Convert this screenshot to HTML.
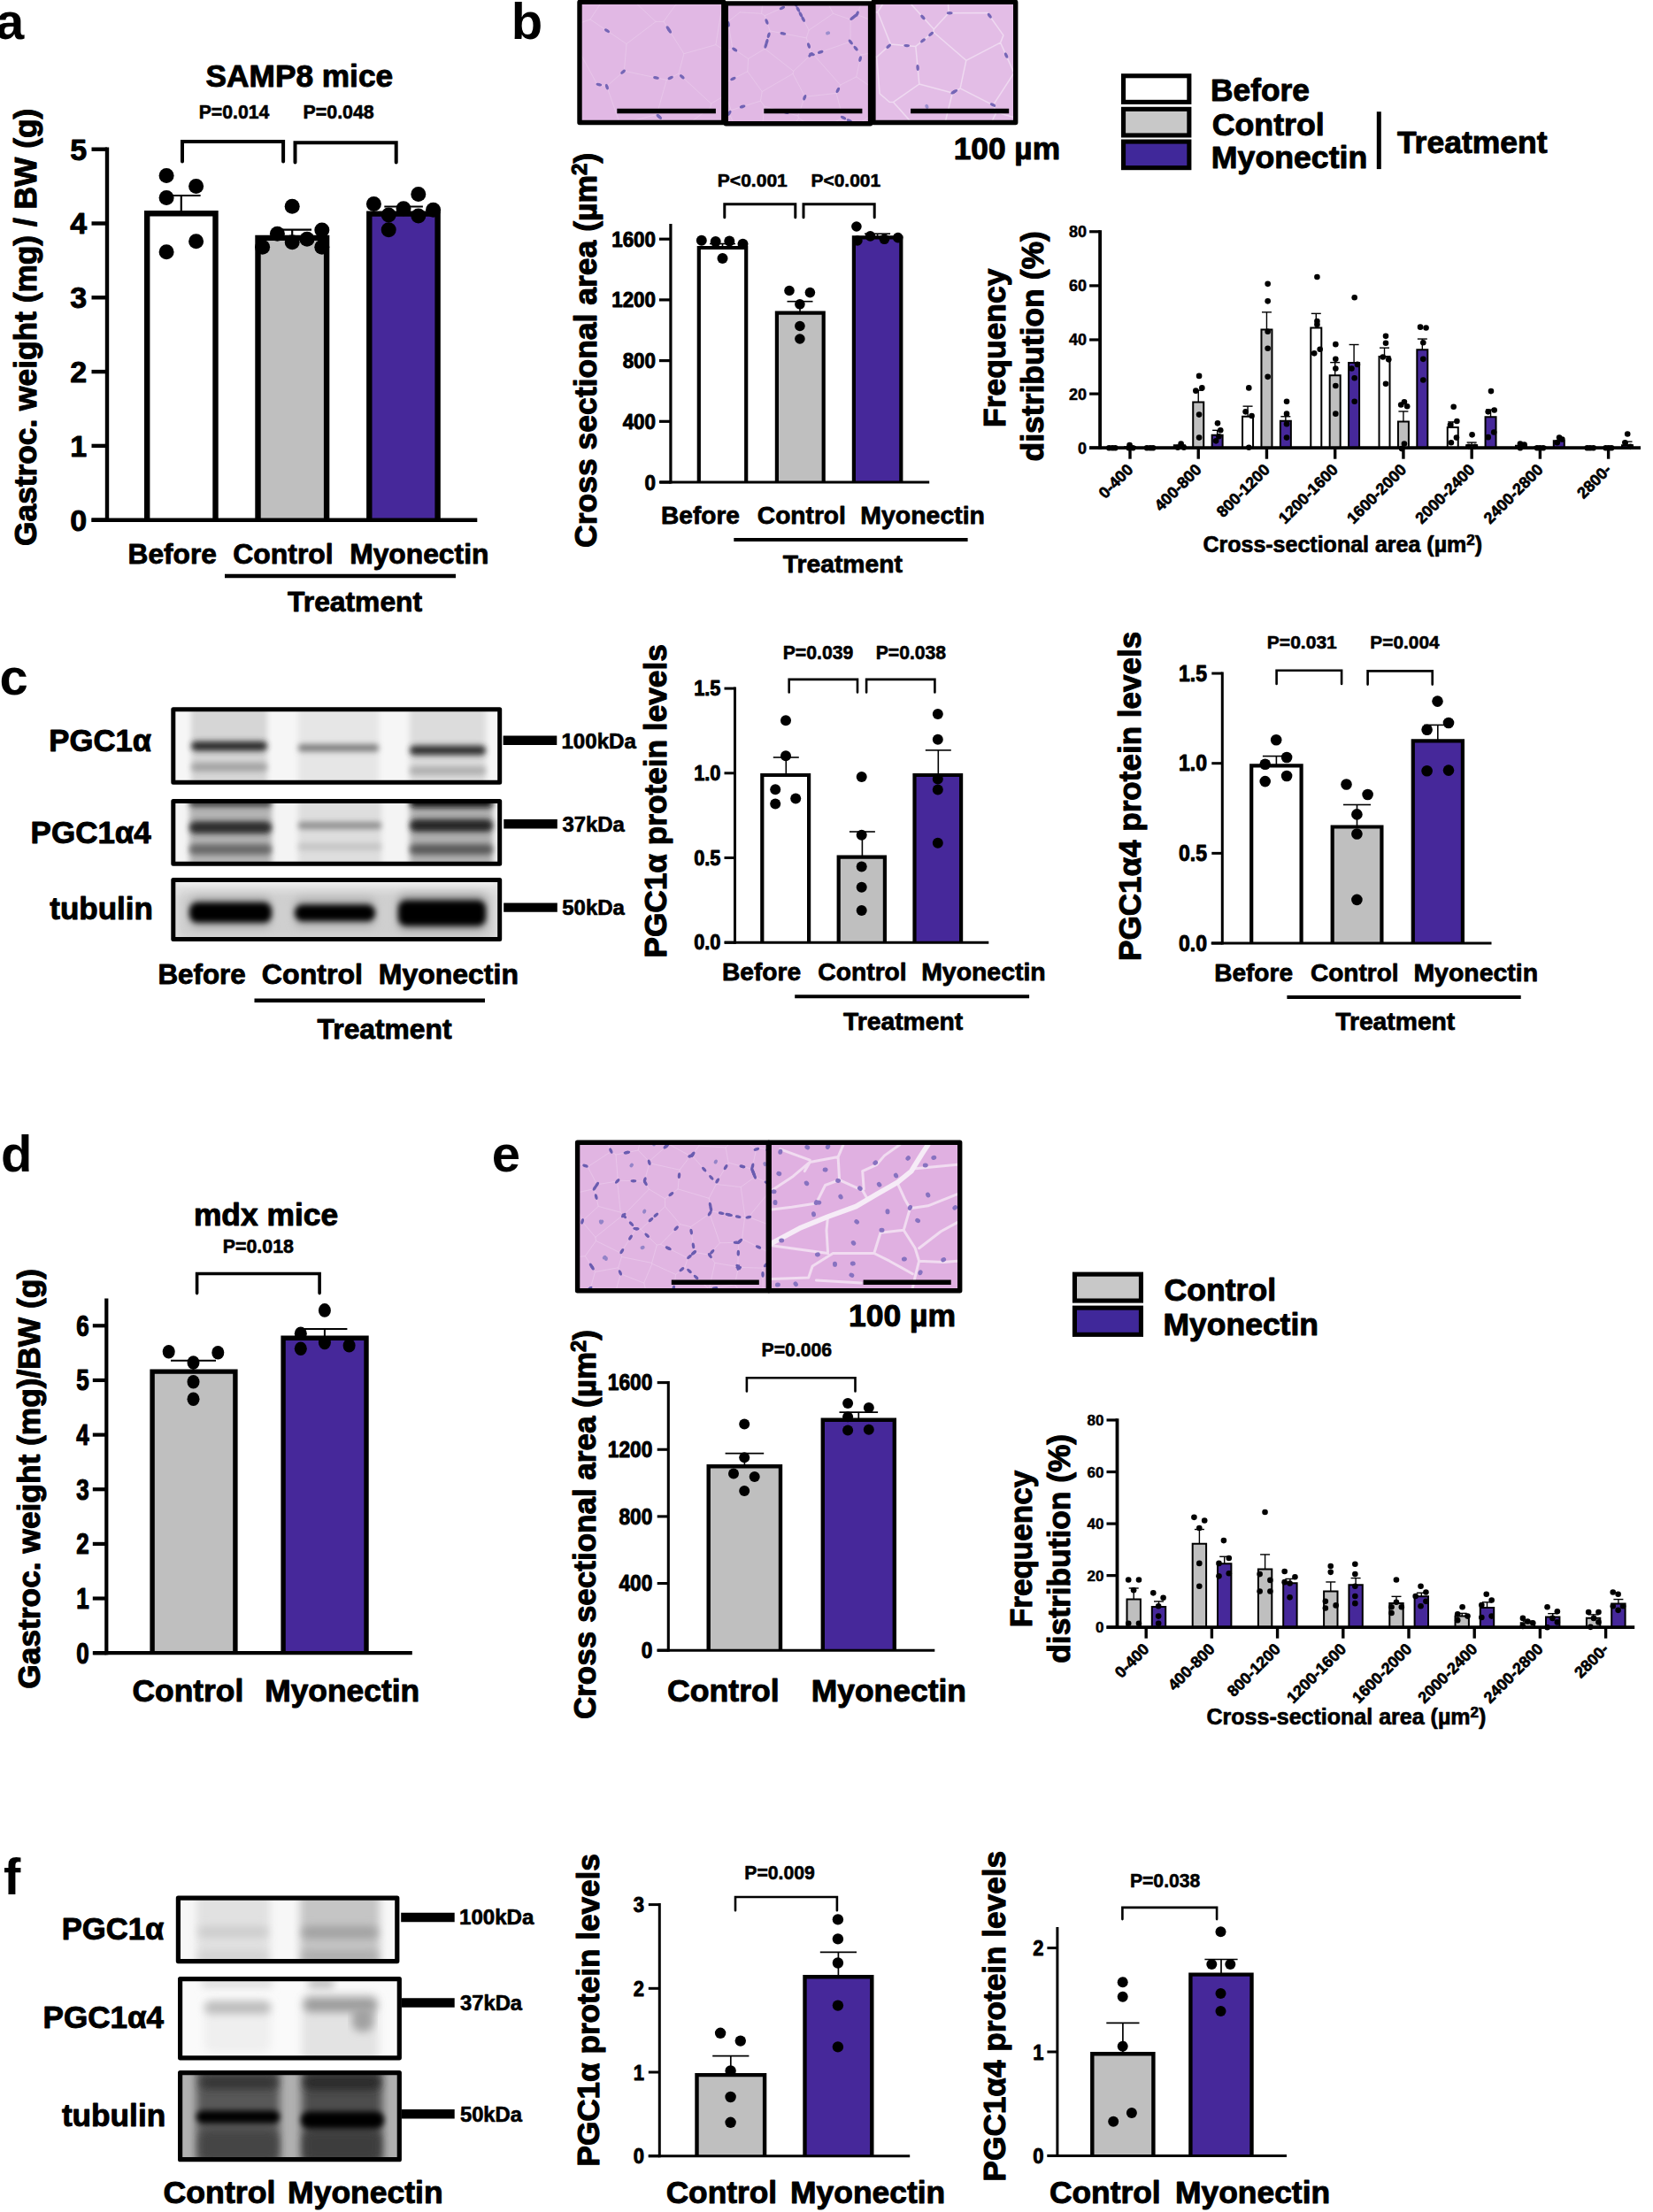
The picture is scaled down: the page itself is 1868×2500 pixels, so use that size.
<!DOCTYPE html>
<html lang="en"><head><meta charset="utf-8"><title>Figure</title>
<style>html,body{margin:0;padding:0;background:#fff}svg{display:block}text{font-family:"Liberation Sans",sans-serif;font-weight:bold;fill:#000;stroke:#000;stroke-linejoin:round}</style>
</head><body>
<svg width="1868" height="2500" viewBox="0 0 1868 2500">
<rect width="1868" height="2500" fill="#fff"/>
<text x="-5.08" y="44" font-size="58" text-anchor="start" stroke-width="0">a</text>
<text x="577.64" y="43.8" font-size="58" text-anchor="start" stroke-width="0">b</text>
<text x="-0.45" y="785" font-size="58" text-anchor="start" stroke-width="0">c</text>
<text x="1.09" y="1324.4" font-size="58" text-anchor="start" stroke-width="0">d</text>
<text x="555.84" y="1323.5" font-size="58" text-anchor="start" stroke-width="0">e</text>
<text x="4.07" y="2141" font-size="58" text-anchor="start" stroke-width="0">f</text>
<text x="232.62" y="98.2" font-size="35.24" text-anchor="start" stroke-width="0.95">SAMP8 mice</text>
<text x="224.71" y="133.8" font-size="21.2" text-anchor="start" stroke-width="0.57">P=0.014</text>
<text x="342.6" y="133.8" font-size="21.35" text-anchor="start" stroke-width="0.58">P=0.048</text>
<path d="M206 182.5 V160.1 H320.1 V182.5" fill="none" stroke="#000" stroke-width="4" stroke-linecap="round" stroke-linejoin="miter"/>
<path d="M333.5 183.6 V161.2 H447.7 V183.6" fill="none" stroke="#000" stroke-width="4" stroke-linecap="round" stroke-linejoin="miter"/>
<rect x="166.2" y="241.2" width="77.3" height="346.5" fill="#ffffff"/>
<path d="M166.2 587.7 V241.2 H243.5 V587.7" fill="none" stroke="#000" stroke-width="6.4" stroke-linejoin="miter"/>
<rect x="291.5" y="268.9" width="77.6" height="318.8" fill="#bfbfbf"/>
<path d="M291.5 587.7 V268.9 H369.1 V587.7" fill="none" stroke="#000" stroke-width="6.4" stroke-linejoin="miter"/>
<rect x="417.3" y="241.6" width="77.3" height="346.1" fill="#46289a"/>
<path d="M417.3 587.7 V241.6 H494.6 V587.7" fill="none" stroke="#000" stroke-width="6.4" stroke-linejoin="miter"/>
<line x1="204.8" y1="221" x2="204.8" y2="240" stroke="#000" stroke-width="2.2" stroke-linecap="butt"/>
<line x1="183" y1="221" x2="226.6" y2="221" stroke="#000" stroke-width="2.2" stroke-linecap="butt"/>
<line x1="330.2" y1="259.7" x2="330.2" y2="268" stroke="#000" stroke-width="2.2" stroke-linecap="butt"/>
<line x1="308.4" y1="259.7" x2="352" y2="259.7" stroke="#000" stroke-width="2.2" stroke-linecap="butt"/>
<line x1="456.1" y1="233.5" x2="456.1" y2="240" stroke="#000" stroke-width="2.2" stroke-linecap="butt"/>
<line x1="434.3" y1="233.5" x2="477.9" y2="233.5" stroke="#000" stroke-width="2.2" stroke-linecap="butt"/>
<line x1="121" y1="166.5" x2="121" y2="589.9" stroke="#000" stroke-width="4.4" stroke-linecap="butt"/>
<line x1="103.5" y1="587.7" x2="121" y2="587.7" stroke="#000" stroke-width="4.4" stroke-linecap="butt"/>
<line x1="103.5" y1="503.9" x2="121" y2="503.9" stroke="#000" stroke-width="4.4" stroke-linecap="butt"/>
<line x1="103.5" y1="420.1" x2="121" y2="420.1" stroke="#000" stroke-width="4.4" stroke-linecap="butt"/>
<line x1="103.5" y1="336.3" x2="121" y2="336.3" stroke="#000" stroke-width="4.4" stroke-linecap="butt"/>
<line x1="103.5" y1="252.5" x2="121" y2="252.5" stroke="#000" stroke-width="4.4" stroke-linecap="butt"/>
<line x1="103.5" y1="168.7" x2="121" y2="168.7" stroke="#000" stroke-width="4.4" stroke-linecap="butt"/>
<line x1="103.5" y1="587.7" x2="539.3" y2="587.7" stroke="#000" stroke-width="4.4" stroke-linecap="butt"/>
<text x="98.2" y="599.5" font-size="34" text-anchor="end" stroke-width="0.92">0</text>
<text x="98.2" y="515.7" font-size="34" text-anchor="end" stroke-width="0.92">1</text>
<text x="98.2" y="431.9" font-size="34" text-anchor="end" stroke-width="0.92">2</text>
<text x="98.2" y="348.1" font-size="34" text-anchor="end" stroke-width="0.92">3</text>
<text x="98.2" y="264.3" font-size="34" text-anchor="end" stroke-width="0.92">4</text>
<text x="98.2" y="180.5" font-size="34" text-anchor="end" stroke-width="0.92">5</text>
<circle cx="188.1" cy="198.6" r="8.5"/>
<circle cx="221.6" cy="210.4" r="8.5"/>
<circle cx="188.1" cy="223.4" r="8.5"/>
<circle cx="221.6" cy="272.7" r="8.5"/>
<circle cx="188.1" cy="284.7" r="8.5"/>
<circle cx="296.6" cy="279.2" r="8.5"/>
<circle cx="313.4" cy="264.2" r="8.5"/>
<circle cx="330.2" cy="233.3" r="8.5"/>
<circle cx="330.2" cy="273.8" r="8.5"/>
<circle cx="347" cy="270.2" r="8.5"/>
<circle cx="363.8" cy="260.1" r="8.5"/>
<circle cx="363.8" cy="279.2" r="8.5"/>
<circle cx="422.4" cy="230.6" r="8.5"/>
<circle cx="439.2" cy="242.9" r="8.5"/>
<circle cx="439.2" cy="259.7" r="8.5"/>
<circle cx="456" cy="235.7" r="8.5"/>
<circle cx="472.8" cy="219.4" r="8.5"/>
<circle cx="472.8" cy="244" r="8.5"/>
<circle cx="489.6" cy="237.3" r="8.5"/>
<text x="144.57" y="636.8" font-size="31.66" text-anchor="start" stroke-width="0.85">Before</text>
<text x="263.25" y="636.8" font-size="31.93" text-anchor="start" stroke-width="0.86">Control</text>
<text x="395.16" y="636.8" font-size="31.81" text-anchor="start" stroke-width="0.86">Myonectin</text>
<line x1="254" y1="651" x2="515" y2="651" stroke="#000" stroke-width="4.5" stroke-linecap="butt"/>
<text x="325.11" y="691" font-size="31.81" text-anchor="start" stroke-width="0.86">Treatment</text>
<text transform="translate(41.3 616.94) rotate(-90)" font-size="35.31" text-anchor="start" stroke-width="1.1">Gastroc. weight (mg) / BW (g)</text>
<defs><filter id="hb" x="-5%" y="-5%" width="110%" height="110%"><feGaussianBlur stdDeviation="0.7"/></filter></defs>
<clipPath id="hc1"><rect x="655" y="2.4" width="162.8" height="136.1"/></clipPath>
<rect x="655" y="2.4" width="162.8" height="136.1" fill="#e1b8e4"/>
<g clip-path="url(#hc1)"><g filter="url(#hb)">
<path d="M772.9 60.7L808.9 50.6M772.9 60.7L750.0 24.3M763.7 5.2L750.0 24.3M763.7 5.2L816.3 4.9M816.3 4.9L808.9 50.6M696.2 -766.2L763.7 5.2M860.5 83.6L808.9 50.6M860.5 83.6L803.6 117.1M772.9 60.7L766.9 83.2M766.9 83.2L803.6 117.1M764.7 149.6L802.8 121.7M803.6 117.1L802.8 121.7M640.2 31.5L674.6 95.1M708.0 49.6L667.0 21.9M708.0 49.6L741.0 24.5M741.0 24.5L694.2 -19.7M667.0 21.9L694.2 -19.7M696.2 -766.2L694.2 -19.7M750.0 24.3L741.0 24.5M640.2 31.5L667.0 21.9M753.3 90.4L742.2 129.6M753.3 90.4L705.4 80.2M742.2 129.6L700.6 140.1M700.6 140.1L685.7 97.5M705.4 80.2L685.7 97.5M766.9 83.2L753.3 90.4M764.7 149.6L742.2 129.6M708.0 49.6L705.4 80.2M674.6 95.1L685.7 97.5" fill="none" stroke="#e8c7ea" stroke-width="0.9" stroke-linecap="round"/>
<ellipse cx="745.2" cy="132.3" rx="3.4" ry="1.7" fill="#7566b6" transform="rotate(-138 745.2 132.3)"/>
<ellipse cx="770.8" cy="86.8" rx="3.4" ry="1.7" fill="#7566b6" transform="rotate(43 770.8 86.8)"/>
<ellipse cx="689.7" cy="-12.8" rx="3.4" ry="1.7" fill="#7566b6" transform="rotate(-57 689.7 -12.8)"/>
<ellipse cx="648.0" cy="28.7" rx="3.4" ry="1.7" fill="#7566b6" transform="rotate(-20 648.0 28.7)"/>
<ellipse cx="676.9" cy="95.6" rx="3.4" ry="1.7" fill="#7566b6" transform="rotate(13 676.9 95.6)"/>
<ellipse cx="694.4" cy="-86.6" rx="3.4" ry="1.7" fill="#7566b6" transform="rotate(90 694.4 -86.6)"/>
<ellipse cx="755.1" cy="32.4" rx="3.4" ry="1.7" fill="#7566b6" transform="rotate(-122 755.1 32.4)"/>
<ellipse cx="744.4" cy="131.5" rx="3.4" ry="1.7" fill="#7566b6" transform="rotate(-138 744.4 131.5)"/>
<ellipse cx="757.7" cy="88.0" rx="3.4" ry="1.7" fill="#7566b6" transform="rotate(152 757.7 88.0)"/>
<ellipse cx="694.5" cy="-138.6" rx="3.4" ry="1.7" fill="#7566b6" transform="rotate(90 694.5 -138.6)"/>
<ellipse cx="685.9" cy="98.1" rx="3.4" ry="1.7" fill="#7566b6" transform="rotate(-109 685.9 98.1)"/>
<ellipse cx="851.3" cy="77.7" rx="3.4" ry="1.7" fill="#7566b6" transform="rotate(-147 851.3 77.7)"/>
<ellipse cx="686.0" cy="34.7" rx="3.4" ry="1.7" fill="#7566b6" transform="rotate(-146 686.0 34.7)"/>
<ellipse cx="756.6" cy="34.7" rx="3.4" ry="1.7" fill="#7566b6" transform="rotate(-122 756.6 34.7)"/>
<ellipse cx="741.5" cy="87.9" rx="3.4" ry="1.7" fill="#7566b6" transform="rotate(-168 741.5 87.9)"/>
<ellipse cx="704.1" cy="81.3" rx="3.4" ry="1.7" fill="#7566b6" transform="rotate(139 704.1 81.3)"/>
<ellipse cx="836.7" cy="34.8" rx="2.6" ry="2" fill="#9c8ecd" transform="rotate(97 836.7 34.8)"/>
<ellipse cx="830.4" cy="37.1" rx="2.6" ry="2" fill="#9c8ecd" transform="rotate(31 830.4 37.1)"/>
<ellipse cx="788.6" cy="157.0" rx="2.6" ry="2" fill="#9c8ecd" transform="rotate(75 788.6 157.0)"/>
</g></g>
<rect x="655" y="2.4" width="162.8" height="136.1" fill="none" stroke="#000" stroke-width="5.4" stroke-linejoin="round"/>
<clipPath id="hc3"><rect x="986.9" y="2.4" width="160.8" height="136.1"/></clipPath>
<rect x="986.9" y="2.4" width="160.8" height="136.1" fill="#e3bde6"/>
<g clip-path="url(#hc3)"><g filter="url(#hb)">
<path d="M863.9 35.1L990.7 64.5M994.1 105.8L990.7 64.5M994.1 105.8L1005.0 115.3M1085.1 99.9L1122.3 118.8M1085.1 99.9L1076.3 105.0M1076.3 105.0L1059.8 172.2M1126.0 126.9L1122.3 118.8M1126.0 126.9L1073.3 235.1M1038.8 95.0L1009.6 115.4M1038.8 95.0L1076.3 105.0M1009.6 115.4L1059.8 172.2M3073.0 696.5L1126.0 126.9M3073.0 696.5L1145.9 82.4M1145.9 82.4L1122.3 118.8M1005.0 115.3L1009.6 115.4M1145.9 82.4L1130.6 48.2M1085.1 99.9L1091.8 68.3M1091.8 68.3L1130.6 48.2M1133.9 39.9L1130.6 48.2M1034.8 52.4L1006.5 50.1M1034.8 52.4L1054.8 36.3M1054.8 36.3L1055.3 33.1M1055.3 33.1L1010.8 -16.0M1006.5 50.1L991.9 13.5M991.9 13.5L1010.8 -16.0M990.7 64.5L1006.5 50.1M1038.8 95.0L1034.8 52.4M1091.8 68.3L1054.8 36.3M863.9 35.1L991.9 13.5M1116.0 14.6L1072.0 14.8M1072.0 14.8L1036.9 -698.2M1133.9 39.9L1116.0 14.6M1055.3 33.1L1072.0 14.8M1010.8 -16.0L1036.9 -698.2" fill="none" stroke="#efdaf1" stroke-width="1.5" stroke-linecap="round"/>
<ellipse cx="1118.3" cy="17.8" rx="3.4" ry="1.7" fill="#7566b6" transform="rotate(-125 1118.3 17.8)"/>
<ellipse cx="1037.1" cy="76.5" rx="3.4" ry="1.7" fill="#7566b6" transform="rotate(-95 1037.1 76.5)"/>
<ellipse cx="1093.1" cy="194.4" rx="3.4" ry="1.7" fill="#7566b6" transform="rotate(116 1093.1 194.4)"/>
<ellipse cx="1043.0" cy="45.8" rx="3.4" ry="1.7" fill="#7566b6" transform="rotate(-39 1043.0 45.8)"/>
<ellipse cx="1024.7" cy="51.6" rx="3.4" ry="1.7" fill="#7566b6" transform="rotate(-176 1024.7 51.6)"/>
<ellipse cx="1004.2" cy="52.2" rx="3.4" ry="1.7" fill="#7566b6" transform="rotate(-43 1004.2 52.2)"/>
<ellipse cx="1073.2" cy="14.8" rx="3.4" ry="1.7" fill="#7566b6" transform="rotate(180 1073.2 14.8)"/>
<ellipse cx="1079.1" cy="103.3" rx="3.4" ry="1.7" fill="#7566b6" transform="rotate(150 1079.1 103.3)"/>
<ellipse cx="962.6" cy="18.4" rx="3.4" ry="1.7" fill="#7566b6" transform="rotate(-10 962.6 18.4)"/>
<ellipse cx="1112.0" cy="155.5" rx="3.4" ry="1.7" fill="#7566b6" transform="rotate(116 1112.0 155.5)"/>
<ellipse cx="1077.5" cy="104.2" rx="3.4" ry="1.7" fill="#7566b6" transform="rotate(150 1077.5 104.2)"/>
<ellipse cx="1042.9" cy="19.5" rx="3.4" ry="1.7" fill="#7566b6" transform="rotate(-132 1042.9 19.5)"/>
<ellipse cx="1137.1" cy="62.6" rx="3.4" ry="1.7" fill="#7566b6" transform="rotate(-114 1137.1 62.6)"/>
<ellipse cx="1052.1" cy="38.5" rx="3.4" ry="1.7" fill="#7566b6" transform="rotate(-39 1052.1 38.5)"/>
<ellipse cx="1122.0" cy="118.6" rx="3.4" ry="1.7" fill="#7566b6" transform="rotate(27 1122.0 118.6)"/>
<ellipse cx="882.6" cy="39.4" rx="3.4" ry="1.7" fill="#7566b6" transform="rotate(13 882.6 39.4)"/>
<ellipse cx="1047.4" cy="120.3" rx="2.6" ry="2" fill="#9c8ecd" transform="rotate(64 1047.4 120.3)"/>
<ellipse cx="971.4" cy="79.3" rx="2.6" ry="2" fill="#9c8ecd" transform="rotate(176 971.4 79.3)"/>
<ellipse cx="1149.2" cy="105.3" rx="2.6" ry="2" fill="#9c8ecd" transform="rotate(58 1149.2 105.3)"/>
</g></g>
<rect x="986.9" y="2.4" width="160.8" height="136.1" fill="none" stroke="#000" stroke-width="5.4" stroke-linejoin="round"/>
<clipPath id="hc2"><rect x="820.3" y="3.9" width="163.3" height="135.8"/></clipPath>
<rect x="820.3" y="3.9" width="163.3" height="135.8" fill="#e1b8e4"/>
<g clip-path="url(#hc2)"><g filter="url(#hb)">
<path d="M822.7 24.6L827.8 54.4M827.8 54.4L781.4 79.4M836.1 13.9L860.6 15.3M860.6 15.3L904.9 -380.7M822.7 24.6L836.1 13.9M870.1 34.9L864.2 17.7M870.1 34.9L911.3 42.9M864.2 17.7L898.0 2.8M898.0 2.8L914.1 34.1M911.3 42.9L914.1 34.1M856.7 197.1L863.7 120.1M856.7 197.1L823.9 128.2M823.9 128.2L826.2 124.6M826.2 124.6L859.5 114.1M863.7 120.1L859.5 114.1M816.3 95.1L826.2 124.6M816.3 95.1L781.4 79.4M941.6 15.3L961.1 22.1M941.6 15.3L916.2 -32.9M920.8 -157.1L972.9 5.4M972.9 5.4L968.4 16.5M968.4 16.5L961.1 22.1M917.0 61.1L919.3 61.7M917.0 61.1L911.3 42.9M919.3 61.7L961.0 47.1M914.1 34.1L941.6 15.3M961.0 47.1L961.1 22.1M898.0 2.8L916.2 -32.9M860.6 15.3L864.2 17.7M1048.2 47.9L968.4 16.5M961.0 47.1L973.1 62.0M1048.2 47.9L973.1 62.0M861.2 103.5L896.0 83.3M861.2 103.5L844.8 80.8M864.3 55.1L845.6 66.4M864.3 55.1L896.7 80.4M896.7 80.4L896.0 83.3M845.6 66.4L844.8 80.8M816.3 95.1L844.8 80.8M859.5 114.1L861.2 103.5M827.8 54.4L845.6 66.4M870.1 34.9L864.3 55.1M917.0 61.1L896.7 80.4M919.3 61.7L949.7 96.1M973.1 62.0L967.7 86.8M949.7 96.1L967.7 86.8M982.8 131.7L968.6 141.0M1208.1 54.0L990.2 102.3M982.8 131.7L990.2 102.3M990.2 102.3L967.7 86.8M901.8 131.0L909.6 109.3M901.8 131.0L902.6 133.4M902.6 133.4L925.5 148.6M909.6 109.3L945.1 105.4M925.5 148.6L952.3 132.8M945.1 105.4L952.3 132.8M863.7 120.1L901.8 131.0M896.0 83.3L909.6 109.3M856.8 197.9L902.6 133.4M949.7 96.1L945.1 105.4M968.6 141.0L952.3 132.8" fill="none" stroke="#e8c7ea" stroke-width="0.9" stroke-linecap="round"/>
<ellipse cx="883.9" cy="9.0" rx="3.4" ry="1.7" fill="#7062b4" transform="rotate(-24 883.9 9.0)"/>
<ellipse cx="868.7" cy="39.8" rx="3.4" ry="1.7" fill="#7062b4" transform="rotate(106 868.7 39.8)"/>
<ellipse cx="963.3" cy="20.3" rx="3.4" ry="1.7" fill="#7062b4" transform="rotate(142 963.3 20.3)"/>
<ellipse cx="888.4" cy="127.1" rx="3.4" ry="1.7" fill="#7062b4" transform="rotate(16 888.4 127.1)"/>
<ellipse cx="830.2" cy="56.0" rx="3.4" ry="1.7" fill="#7062b4" transform="rotate(34 830.2 56.0)"/>
<ellipse cx="909.3" cy="110.2" rx="3.4" ry="1.7" fill="#7062b4" transform="rotate(-70 909.3 110.2)"/>
<ellipse cx="884.9" cy="37.8" rx="3.4" ry="1.7" fill="#7062b4" transform="rotate(11 884.9 37.8)"/>
<ellipse cx="972.1" cy="66.6" rx="3.4" ry="1.7" fill="#7062b4" transform="rotate(102 972.1 66.6)"/>
<ellipse cx="839.1" cy="120.5" rx="3.4" ry="1.7" fill="#7062b4" transform="rotate(-17 839.1 120.5)"/>
<ellipse cx="823.1" cy="27.1" rx="3.4" ry="1.7" fill="#7062b4" transform="rotate(80 823.1 27.1)"/>
<ellipse cx="925.4" cy="148.5" rx="3.4" ry="1.7" fill="#7062b4" transform="rotate(34 925.4 148.5)"/>
<ellipse cx="954.8" cy="-50.9" rx="3.4" ry="1.7" fill="#7062b4" transform="rotate(72 954.8 -50.9)"/>
<ellipse cx="927.8" cy="-10.8" rx="3.4" ry="1.7" fill="#7062b4" transform="rotate(-118 927.8 -10.8)"/>
<ellipse cx="953.0" cy="133.1" rx="3.4" ry="1.7" fill="#7062b4" transform="rotate(-153 953.0 133.1)"/>
<ellipse cx="916.1" cy="61.9" rx="3.4" ry="1.7" fill="#7062b4" transform="rotate(136 916.1 61.9)"/>
<ellipse cx="971.6" cy="1.4" rx="3.4" ry="1.7" fill="#7062b4" transform="rotate(72 971.6 1.4)"/>
<ellipse cx="967.1" cy="54.6" rx="3.4" ry="1.7" fill="#7062b4" transform="rotate(51 967.1 54.6)"/>
<ellipse cx="907.7" cy="21.8" rx="3.4" ry="1.7" fill="#7062b4" transform="rotate(63 907.7 21.8)"/>
<ellipse cx="917.6" cy="61.3" rx="3.4" ry="1.7" fill="#7062b4" transform="rotate(14 917.6 61.3)"/>
<ellipse cx="885.4" cy="157.7" rx="3.4" ry="1.7" fill="#7062b4" transform="rotate(-55 885.4 157.7)"/>
<ellipse cx="828.4" cy="89.0" rx="3.4" ry="1.7" fill="#7062b4" transform="rotate(-27 828.4 89.0)"/>
<ellipse cx="865.4" cy="51.4" rx="3.4" ry="1.7" fill="#7062b4" transform="rotate(106 865.4 51.4)"/>
<ellipse cx="959.9" cy="136.6" rx="3.4" ry="1.7" fill="#7062b4" transform="rotate(-153 959.9 136.6)"/>
<ellipse cx="866.6" cy="47.2" rx="3.4" ry="1.7" fill="#7062b4" transform="rotate(106 866.6 47.2)"/>
<ellipse cx="946.8" cy="101.9" rx="3.4" ry="1.7" fill="#7062b4" transform="rotate(116 946.8 101.9)"/>
<ellipse cx="899.0" cy="4.8" rx="3.4" ry="1.7" fill="#7062b4" transform="rotate(63 899.0 4.8)"/>
<ellipse cx="866.5" cy="24.5" rx="3.4" ry="1.7" fill="#7062b4" transform="rotate(-109 866.5 24.5)"/>
<ellipse cx="961.3" cy="47.5" rx="3.4" ry="1.7" fill="#7062b4" transform="rotate(51 961.3 47.5)"/>
<ellipse cx="927.2" cy="58.9" rx="3.4" ry="1.7" fill="#7062b4" transform="rotate(-19 927.2 58.9)"/>
<ellipse cx="914.0" cy="51.6" rx="3.4" ry="1.7" fill="#7062b4" transform="rotate(-107 914.0 51.6)"/>
<ellipse cx="904.9" cy="16.4" rx="3.4" ry="1.7" fill="#7062b4" transform="rotate(63 904.9 16.4)"/>
<ellipse cx="824.1" cy="127.8" rx="3.4" ry="1.7" fill="#7062b4" transform="rotate(-58 824.1 127.8)"/>
<ellipse cx="966.1" cy="18.2" rx="3.4" ry="1.7" fill="#7062b4" transform="rotate(142 966.1 18.2)"/>
<ellipse cx="901.9" cy="10.6" rx="3.4" ry="1.7" fill="#7062b4" transform="rotate(63 901.9 10.6)"/>
<ellipse cx="799.9" cy="87.7" rx="3.4" ry="1.7" fill="#7062b4" transform="rotate(-156 799.9 87.7)"/>
<ellipse cx="968.7" cy="15.6" rx="3.4" ry="1.7" fill="#7062b4" transform="rotate(112 968.7 15.6)"/>
<ellipse cx="808.8" cy="108.5" rx="2.6" ry="2" fill="#9c8ecd" transform="rotate(21 808.8 108.5)"/>
<ellipse cx="874.0" cy="140.2" rx="2.6" ry="2" fill="#9c8ecd" transform="rotate(90 874.0 140.2)"/>
<ellipse cx="944.9" cy="161.5" rx="2.6" ry="2" fill="#9c8ecd" transform="rotate(6 944.9 161.5)"/>
<ellipse cx="935.6" cy="37.4" rx="2.6" ry="2" fill="#9c8ecd" transform="rotate(169 935.6 37.4)"/>
</g></g>
<rect x="820.3" y="3.9" width="163.3" height="135.8" fill="none" stroke="#000" stroke-width="5.4" stroke-linejoin="round"/>
<line x1="697.3" y1="125.5" x2="808.9" y2="125.5" stroke="#000" stroke-width="5.6" stroke-linecap="butt"/>
<line x1="863.3" y1="125.5" x2="974.4" y2="125.5" stroke="#000" stroke-width="5.6" stroke-linecap="butt"/>
<line x1="1029.1" y1="125.5" x2="1140.2" y2="125.5" stroke="#000" stroke-width="5.6" stroke-linecap="butt"/>
<text x="1077.68" y="179.7" font-size="35.3" text-anchor="start" stroke-width="0.95">100 µm</text>
<text x="810.82" y="211" font-size="21.05" text-anchor="start" stroke-width="0.57">P&lt;0.001</text>
<text x="916.42" y="211" font-size="20.97" text-anchor="start" stroke-width="0.57">P&lt;0.001</text>
<path d="M818.8 245.7 V230.7 H898.8 V245.7" fill="none" stroke="#000" stroke-width="3" stroke-linecap="round" stroke-linejoin="miter"/>
<path d="M908 245.7 V230.7 H988.2 V245.7" fill="none" stroke="#000" stroke-width="3" stroke-linecap="round" stroke-linejoin="miter"/>
<rect x="789.8" y="280" width="53.4" height="265" fill="#ffffff"/>
<path d="M789.8 545 V280 H843.2 V545" fill="none" stroke="#000" stroke-width="4.2" stroke-linejoin="miter"/>
<rect x="877.9" y="353.7" width="52.8" height="191.3" fill="#bfbfbf"/>
<path d="M877.9 545 V353.7 H930.7 V545" fill="none" stroke="#000" stroke-width="4.2" stroke-linejoin="miter"/>
<rect x="964.9" y="268.3" width="53.4" height="276.7" fill="#46289a"/>
<path d="M964.9 545 V268.3 H1018.3 V545" fill="none" stroke="#000" stroke-width="4.2" stroke-linejoin="miter"/>
<line x1="816.5" y1="275.5" x2="816.5" y2="279" stroke="#000" stroke-width="1.6" stroke-linecap="butt"/>
<line x1="802" y1="275.5" x2="831" y2="275.5" stroke="#000" stroke-width="1.6" stroke-linecap="butt"/>
<line x1="904" y1="340.7" x2="904" y2="353" stroke="#000" stroke-width="1.6" stroke-linecap="butt"/>
<line x1="889.5" y1="340.7" x2="918.5" y2="340.7" stroke="#000" stroke-width="1.6" stroke-linecap="butt"/>
<line x1="991.6" y1="264.2" x2="991.6" y2="268" stroke="#000" stroke-width="1.6" stroke-linecap="butt"/>
<line x1="977.1" y1="264.2" x2="1006.1" y2="264.2" stroke="#000" stroke-width="1.6" stroke-linecap="butt"/>
<line x1="757.9" y1="253" x2="757.9" y2="546.6" stroke="#000" stroke-width="3.2" stroke-linecap="butt"/>
<line x1="744.9" y1="545" x2="757.9" y2="545" stroke="#000" stroke-width="3.2" stroke-linecap="butt"/>
<line x1="744.9" y1="476.3" x2="757.9" y2="476.3" stroke="#000" stroke-width="3.2" stroke-linecap="butt"/>
<line x1="744.9" y1="407.6" x2="757.9" y2="407.6" stroke="#000" stroke-width="3.2" stroke-linecap="butt"/>
<line x1="744.9" y1="338.9" x2="757.9" y2="338.9" stroke="#000" stroke-width="3.2" stroke-linecap="butt"/>
<line x1="744.9" y1="270.2" x2="757.9" y2="270.2" stroke="#000" stroke-width="3.2" stroke-linecap="butt"/>
<line x1="746" y1="545" x2="1050.2" y2="545" stroke="#000" stroke-width="3" stroke-linecap="butt"/>
<text transform="translate(741 553.58) scale(1 1.1)" font-size="22.4" text-anchor="end" stroke-width="0.85">0</text>
<text transform="translate(741 484.88) scale(1 1.1)" font-size="22.4" text-anchor="end" stroke-width="0.85">400</text>
<text transform="translate(741 416.18) scale(1 1.1)" font-size="22.4" text-anchor="end" stroke-width="0.85">800</text>
<text transform="translate(741 347.48) scale(1 1.1)" font-size="22.4" text-anchor="end" stroke-width="0.85">1200</text>
<text transform="translate(741 278.78) scale(1 1.1)" font-size="22.4" text-anchor="end" stroke-width="0.85">1600</text>
<circle cx="792.8" cy="271.8" r="6"/>
<circle cx="808.7" cy="273.1" r="6"/>
<circle cx="824.3" cy="272.5" r="6"/>
<circle cx="839.5" cy="275.8" r="6"/>
<circle cx="816.5" cy="291.9" r="6"/>
<circle cx="892" cy="328.5" r="5.8"/>
<circle cx="915.4" cy="330.6" r="5.8"/>
<circle cx="903.9" cy="343.8" r="5.8"/>
<circle cx="903.9" cy="368.5" r="5.8"/>
<circle cx="903.9" cy="383" r="5.8"/>
<circle cx="967.9" cy="256" r="5.8"/>
<circle cx="968.9" cy="272" r="5.8"/>
<circle cx="983.5" cy="266.9" r="5.8"/>
<circle cx="999.4" cy="270.3" r="5.8"/>
<circle cx="1014.7" cy="268.6" r="5.8"/>
<text x="747.05" y="592.4" font-size="28.07" text-anchor="start" stroke-width="0.76">Before</text>
<text x="855.85" y="592.4" font-size="28.15" text-anchor="start" stroke-width="0.76">Control</text>
<text x="972.33" y="592.4" font-size="28.45" text-anchor="start" stroke-width="0.77">Myonectin</text>
<line x1="829.3" y1="610" x2="1093.6" y2="610" stroke="#000" stroke-width="4" stroke-linecap="butt"/>
<text x="884.8" y="646.6" font-size="28.27" text-anchor="start" stroke-width="0.76">Treatment</text>
<text transform="translate(673.5 618.94) rotate(-90)" font-size="35.51" text-anchor="start" stroke-width="1.11">Cross sectional area (µm<tspan font-size="24.15" dy="-11.01">2</tspan><tspan dy="11.01">)</tspan></text>
<rect x="1269.55" y="85.75" width="74.3" height="29.6" fill="#ffffff" stroke="#000" stroke-width="5.1"/>
<rect x="1269.55" y="123.35" width="74.3" height="29.6" fill="#c8c8c8" stroke="#000" stroke-width="5.1"/>
<rect x="1269.55" y="160.05" width="74.3" height="29.6" fill="#40289a" stroke="#000" stroke-width="5.1"/>
<text x="1368.08" y="113.7" font-size="35.35" text-anchor="start" stroke-width="0.95">Before</text>
<text x="1369.75" y="153.2" font-size="35.71" text-anchor="start" stroke-width="0.96">Control</text>
<text x="1368.86" y="189.8" font-size="35.69" text-anchor="start" stroke-width="0.96">Myonectin</text>
<line x1="1558.3" y1="126.2" x2="1558.3" y2="191.1" stroke="#000" stroke-width="5" stroke-linecap="butt"/>
<text x="1578.92" y="173.2" font-size="35.49" text-anchor="start" stroke-width="0.96">Treatment</text>
<rect x="1271" y="505.28" width="12" height="0.92" fill="#bfbfbf"/>
<path d="M1271 506.2 V505.28 H1283 V506.2" fill="none" stroke="#000" stroke-width="2" stroke-linejoin="miter"/>
<rect x="1326.83" y="503.14" width="12" height="3.06" fill="#ffffff"/>
<path d="M1326.83 506.2 V503.14 H1338.83 V506.2" fill="none" stroke="#000" stroke-width="2" stroke-linejoin="miter"/>
<rect x="1348.23" y="454.57" width="12" height="51.63" fill="#bfbfbf"/>
<path d="M1348.23 506.2 V454.57 H1360.23 V506.2" fill="none" stroke="#000" stroke-width="2" stroke-linejoin="miter"/>
<line x1="1354.23" y1="441.13" x2="1354.23" y2="454.57" stroke="#000" stroke-width="1.4" stroke-linecap="butt"/>
<line x1="1348.73" y1="441.13" x2="1359.73" y2="441.13" stroke="#000" stroke-width="1.4" stroke-linecap="butt"/>
<rect x="1369.63" y="491.84" width="12" height="14.36" fill="#46289a"/>
<path d="M1369.63 506.2 V491.84 H1381.63 V506.2" fill="none" stroke="#000" stroke-width="2" stroke-linejoin="miter"/>
<line x1="1375.63" y1="486.34" x2="1375.63" y2="491.84" stroke="#000" stroke-width="1.4" stroke-linecap="butt"/>
<line x1="1370.13" y1="486.34" x2="1381.13" y2="486.34" stroke="#000" stroke-width="1.4" stroke-linecap="butt"/>
<rect x="1404.06" y="470.76" width="12" height="35.44" fill="#ffffff"/>
<path d="M1404.06 506.2 V470.76 H1416.06 V506.2" fill="none" stroke="#000" stroke-width="2" stroke-linejoin="miter"/>
<line x1="1410.06" y1="459.15" x2="1410.06" y2="470.76" stroke="#000" stroke-width="1.4" stroke-linecap="butt"/>
<line x1="1404.56" y1="459.15" x2="1415.56" y2="459.15" stroke="#000" stroke-width="1.4" stroke-linecap="butt"/>
<rect x="1425.46" y="372.39" width="12" height="133.81" fill="#bfbfbf"/>
<path d="M1425.46 506.2 V372.39 H1437.46 V506.2" fill="none" stroke="#000" stroke-width="2" stroke-linejoin="miter"/>
<line x1="1431.46" y1="352.84" x2="1431.46" y2="372.39" stroke="#000" stroke-width="1.4" stroke-linecap="butt"/>
<line x1="1425.96" y1="352.84" x2="1436.96" y2="352.84" stroke="#000" stroke-width="1.4" stroke-linecap="butt"/>
<rect x="1446.86" y="475.65" width="12" height="30.55" fill="#46289a"/>
<path d="M1446.86 506.2 V475.65 H1458.86 V506.2" fill="none" stroke="#000" stroke-width="2" stroke-linejoin="miter"/>
<line x1="1452.86" y1="470.76" x2="1452.86" y2="475.65" stroke="#000" stroke-width="1.4" stroke-linecap="butt"/>
<line x1="1447.36" y1="470.76" x2="1458.36" y2="470.76" stroke="#000" stroke-width="1.4" stroke-linecap="butt"/>
<rect x="1481.29" y="370.56" width="12" height="135.64" fill="#ffffff"/>
<path d="M1481.29 506.2 V370.56 H1493.29 V506.2" fill="none" stroke="#000" stroke-width="2" stroke-linejoin="miter"/>
<line x1="1487.29" y1="354.37" x2="1487.29" y2="370.56" stroke="#000" stroke-width="1.4" stroke-linecap="butt"/>
<line x1="1481.79" y1="354.37" x2="1492.79" y2="354.37" stroke="#000" stroke-width="1.4" stroke-linecap="butt"/>
<rect x="1502.69" y="424.33" width="12" height="81.87" fill="#bfbfbf"/>
<path d="M1502.69 506.2 V424.33 H1514.69 V506.2" fill="none" stroke="#000" stroke-width="2" stroke-linejoin="miter"/>
<line x1="1508.69" y1="409.66" x2="1508.69" y2="424.33" stroke="#000" stroke-width="1.4" stroke-linecap="butt"/>
<line x1="1503.19" y1="409.66" x2="1514.19" y2="409.66" stroke="#000" stroke-width="1.4" stroke-linecap="butt"/>
<rect x="1524.09" y="409.97" width="12" height="96.23" fill="#46289a"/>
<path d="M1524.09 506.2 V409.97 H1536.09 V506.2" fill="none" stroke="#000" stroke-width="2" stroke-linejoin="miter"/>
<line x1="1530.09" y1="389.5" x2="1530.09" y2="409.97" stroke="#000" stroke-width="1.4" stroke-linecap="butt"/>
<line x1="1524.59" y1="389.5" x2="1535.59" y2="389.5" stroke="#000" stroke-width="1.4" stroke-linecap="butt"/>
<rect x="1558.52" y="402.94" width="12" height="103.26" fill="#ffffff"/>
<path d="M1558.52 506.2 V402.94 H1570.52 V506.2" fill="none" stroke="#000" stroke-width="2" stroke-linejoin="miter"/>
<line x1="1564.52" y1="393.16" x2="1564.52" y2="402.94" stroke="#000" stroke-width="1.4" stroke-linecap="butt"/>
<line x1="1559.02" y1="393.16" x2="1570.02" y2="393.16" stroke="#000" stroke-width="1.4" stroke-linecap="butt"/>
<rect x="1579.92" y="476.57" width="12" height="29.63" fill="#bfbfbf"/>
<path d="M1579.92 506.2 V476.57 H1591.92 V506.2" fill="none" stroke="#000" stroke-width="2" stroke-linejoin="miter"/>
<line x1="1585.92" y1="464.96" x2="1585.92" y2="476.57" stroke="#000" stroke-width="1.4" stroke-linecap="butt"/>
<line x1="1580.42" y1="464.96" x2="1591.42" y2="464.96" stroke="#000" stroke-width="1.4" stroke-linecap="butt"/>
<rect x="1601.32" y="395.3" width="12" height="110.9" fill="#46289a"/>
<path d="M1601.32 506.2 V395.3 H1613.32 V506.2" fill="none" stroke="#000" stroke-width="2" stroke-linejoin="miter"/>
<line x1="1607.32" y1="383.08" x2="1607.32" y2="395.3" stroke="#000" stroke-width="1.4" stroke-linecap="butt"/>
<line x1="1601.82" y1="383.08" x2="1612.82" y2="383.08" stroke="#000" stroke-width="1.4" stroke-linecap="butt"/>
<rect x="1635.75" y="482.98" width="12" height="23.22" fill="#ffffff"/>
<path d="M1635.75 506.2 V482.98 H1647.75 V506.2" fill="none" stroke="#000" stroke-width="2" stroke-linejoin="miter"/>
<line x1="1641.75" y1="476.87" x2="1641.75" y2="482.98" stroke="#000" stroke-width="1.4" stroke-linecap="butt"/>
<line x1="1636.25" y1="476.87" x2="1647.25" y2="476.87" stroke="#000" stroke-width="1.4" stroke-linecap="butt"/>
<rect x="1657.15" y="503.14" width="12" height="3.06" fill="#bfbfbf"/>
<path d="M1657.15 506.2 V503.14 H1669.15 V506.2" fill="none" stroke="#000" stroke-width="2" stroke-linejoin="miter"/>
<line x1="1663.15" y1="500.09" x2="1663.15" y2="503.14" stroke="#000" stroke-width="1.4" stroke-linecap="butt"/>
<line x1="1657.65" y1="500.09" x2="1668.65" y2="500.09" stroke="#000" stroke-width="1.4" stroke-linecap="butt"/>
<rect x="1678.55" y="471.37" width="12" height="34.83" fill="#46289a"/>
<path d="M1678.55 506.2 V471.37 H1690.55 V506.2" fill="none" stroke="#000" stroke-width="2" stroke-linejoin="miter"/>
<line x1="1684.55" y1="463.12" x2="1684.55" y2="471.37" stroke="#000" stroke-width="1.4" stroke-linecap="butt"/>
<line x1="1679.05" y1="463.12" x2="1690.05" y2="463.12" stroke="#000" stroke-width="1.4" stroke-linecap="butt"/>
<rect x="1712.98" y="503.76" width="12" height="2.44" fill="#ffffff"/>
<path d="M1712.98 506.2 V503.76 H1724.98 V506.2" fill="none" stroke="#000" stroke-width="2" stroke-linejoin="miter"/>
<rect x="1734.38" y="505.28" width="12" height="0.92" fill="#bfbfbf"/>
<path d="M1734.38 506.2 V505.28 H1746.38 V506.2" fill="none" stroke="#000" stroke-width="2" stroke-linejoin="miter"/>
<rect x="1755.78" y="498.26" width="12" height="7.94" fill="#46289a"/>
<path d="M1755.78 506.2 V498.26 H1767.78 V506.2" fill="none" stroke="#000" stroke-width="2" stroke-linejoin="miter"/>
<rect x="1833.01" y="503.14" width="12" height="3.06" fill="#46289a"/>
<path d="M1833.01 506.2 V503.14 H1845.01 V506.2" fill="none" stroke="#000" stroke-width="2" stroke-linejoin="miter"/>
<line x1="1839.01" y1="499.17" x2="1839.01" y2="503.14" stroke="#000" stroke-width="1.4" stroke-linecap="butt"/>
<line x1="1833.51" y1="499.17" x2="1844.51" y2="499.17" stroke="#000" stroke-width="1.4" stroke-linecap="butt"/>
<line x1="1243.1" y1="260.2" x2="1243.1" y2="508.1" stroke="#000" stroke-width="3.8" stroke-linecap="butt"/>
<line x1="1231.1" y1="506.2" x2="1243.1" y2="506.2" stroke="#000" stroke-width="3.2" stroke-linecap="butt"/>
<line x1="1231.1" y1="445.1" x2="1243.1" y2="445.1" stroke="#000" stroke-width="3.2" stroke-linecap="butt"/>
<line x1="1231.1" y1="384" x2="1243.1" y2="384" stroke="#000" stroke-width="3.2" stroke-linecap="butt"/>
<line x1="1231.1" y1="322.9" x2="1243.1" y2="322.9" stroke="#000" stroke-width="3.2" stroke-linecap="butt"/>
<line x1="1231.1" y1="261.8" x2="1243.1" y2="261.8" stroke="#000" stroke-width="3.2" stroke-linecap="butt"/>
<line x1="1231.1" y1="506.2" x2="1854" y2="506.2" stroke="#000" stroke-width="3.8" stroke-linecap="butt"/>
<line x1="1277" y1="506.2" x2="1277" y2="518.7" stroke="#000" stroke-width="3.4" stroke-linecap="butt"/>
<line x1="1354.23" y1="506.2" x2="1354.23" y2="518.7" stroke="#000" stroke-width="3.4" stroke-linecap="butt"/>
<line x1="1431.46" y1="506.2" x2="1431.46" y2="518.7" stroke="#000" stroke-width="3.4" stroke-linecap="butt"/>
<line x1="1508.69" y1="506.2" x2="1508.69" y2="518.7" stroke="#000" stroke-width="3.4" stroke-linecap="butt"/>
<line x1="1585.92" y1="506.2" x2="1585.92" y2="518.7" stroke="#000" stroke-width="3.4" stroke-linecap="butt"/>
<line x1="1663.15" y1="506.2" x2="1663.15" y2="518.7" stroke="#000" stroke-width="3.4" stroke-linecap="butt"/>
<line x1="1740.38" y1="506.2" x2="1740.38" y2="518.7" stroke="#000" stroke-width="3.4" stroke-linecap="butt"/>
<line x1="1817.61" y1="506.2" x2="1817.61" y2="518.7" stroke="#000" stroke-width="3.4" stroke-linecap="butt"/>
<text x="1228" y="512.68" font-size="18" text-anchor="end" stroke-width="0.49">0</text>
<text x="1228" y="451.58" font-size="18" text-anchor="end" stroke-width="0.49">20</text>
<text x="1228" y="390.48" font-size="18" text-anchor="end" stroke-width="0.49">40</text>
<text x="1228" y="329.38" font-size="18" text-anchor="end" stroke-width="0.49">60</text>
<text x="1228" y="268.28" font-size="18" text-anchor="end" stroke-width="0.49">80</text>
<circle cx="1253.32" cy="506.23" r="3.3"/>
<circle cx="1257.04" cy="506.23" r="3.3"/>
<circle cx="1260.29" cy="506.23" r="3.3"/>
<circle cx="1276.56" cy="502.97" r="3.3"/>
<circle cx="1275.63" cy="506.23" r="3.3"/>
<circle cx="1280.27" cy="506.23" r="3.3"/>
<circle cx="1296.07" cy="506.23" r="3.3"/>
<circle cx="1299.79" cy="506.23" r="3.3"/>
<circle cx="1303.04" cy="506.23" r="3.3"/>
<circle cx="1330.92" cy="505.76" r="3.3"/>
<circle cx="1334.63" cy="501.58" r="3.3"/>
<circle cx="1337.89" cy="505.76" r="3.3"/>
<circle cx="1355.08" cy="424.92" r="3.3"/>
<circle cx="1351.36" cy="441.64" r="3.3"/>
<circle cx="1358.33" cy="438.39" r="3.3"/>
<circle cx="1355.08" cy="468.59" r="3.3"/>
<circle cx="1355.08" cy="494.61" r="3.3"/>
<circle cx="1375.98" cy="478.35" r="3.3"/>
<circle cx="1379.24" cy="486.25" r="3.3"/>
<circle cx="1377.38" cy="493.22" r="3.3"/>
<circle cx="1374.13" cy="498.33" r="3.3"/>
<circle cx="1411.29" cy="438.39" r="3.3"/>
<circle cx="1407.58" cy="465.34" r="3.3"/>
<circle cx="1414.55" cy="469.99" r="3.3"/>
<circle cx="1411.29" cy="505.76" r="3.3"/>
<circle cx="1432.67" cy="320.84" r="3.3"/>
<circle cx="1432.67" cy="340.36" r="3.3"/>
<circle cx="1432.67" cy="374.74" r="3.3"/>
<circle cx="1432.67" cy="393.79" r="3.3"/>
<circle cx="1432.67" cy="425.85" r="3.3"/>
<circle cx="1454.04" cy="453.72" r="3.3"/>
<circle cx="1454.04" cy="467.66" r="3.3"/>
<circle cx="1454.04" cy="479.28" r="3.3"/>
<circle cx="1454.04" cy="494.61" r="3.3"/>
<circle cx="1488.42" cy="312.95" r="3.3"/>
<circle cx="1488.42" cy="363.12" r="3.3"/>
<circle cx="1488.42" cy="366.84" r="3.3"/>
<circle cx="1485.17" cy="399.36" r="3.3"/>
<circle cx="1491.67" cy="394.72" r="3.3"/>
<circle cx="1509.33" cy="389.14" r="3.3"/>
<circle cx="1509.33" cy="405.87" r="3.3"/>
<circle cx="1509.33" cy="416.56" r="3.3"/>
<circle cx="1509.33" cy="436.07" r="3.3"/>
<circle cx="1509.33" cy="467.66" r="3.3"/>
<circle cx="1530.7" cy="336.18" r="3.3"/>
<circle cx="1533.95" cy="411.91" r="3.3"/>
<circle cx="1527.45" cy="416.56" r="3.3"/>
<circle cx="1530.7" cy="427.24" r="3.3"/>
<circle cx="1530.7" cy="453.72" r="3.3"/>
<circle cx="1566.01" cy="379.85" r="3.3"/>
<circle cx="1566.01" cy="387.75" r="3.3"/>
<circle cx="1562.76" cy="403.55" r="3.3"/>
<circle cx="1569.27" cy="406.33" r="3.3"/>
<circle cx="1566.01" cy="433.75" r="3.3"/>
<circle cx="1583.2" cy="457.44" r="3.3"/>
<circle cx="1586.92" cy="454.19" r="3.3"/>
<circle cx="1590.17" cy="459.3" r="3.3"/>
<circle cx="1586.92" cy="501.58" r="3.3"/>
<circle cx="1584.13" cy="507.16" r="3.3"/>
<circle cx="1605.04" cy="369.63" r="3.3"/>
<circle cx="1611.55" cy="370.56" r="3.3"/>
<circle cx="1608.29" cy="387.28" r="3.3"/>
<circle cx="1608.29" cy="405.87" r="3.3"/>
<circle cx="1608.29" cy="429.56" r="3.3"/>
<circle cx="1642.68" cy="459.76" r="3.3"/>
<circle cx="1638.96" cy="480.21" r="3.3"/>
<circle cx="1646.39" cy="476.03" r="3.3"/>
<circle cx="1645.93" cy="494.61" r="3.3"/>
<circle cx="1639.89" cy="500.19" r="3.3"/>
<circle cx="1663.58" cy="491.36" r="3.3"/>
<circle cx="1659.87" cy="504.83" r="3.3"/>
<circle cx="1666.84" cy="504.83" r="3.3"/>
<circle cx="1684.96" cy="442.11" r="3.3"/>
<circle cx="1681.7" cy="465.34" r="3.3"/>
<circle cx="1688.67" cy="463.48" r="3.3"/>
<circle cx="1688.21" cy="488.57" r="3.3"/>
<circle cx="1681.7" cy="494.15" r="3.3"/>
<circle cx="1717.94" cy="501.58" r="3.3"/>
<circle cx="1722.59" cy="502.51" r="3.3"/>
<circle cx="1717.94" cy="506.23" r="3.3"/>
<circle cx="1736.99" cy="506.23" r="3.3"/>
<circle cx="1740.25" cy="506.23" r="3.3"/>
<circle cx="1743.96" cy="506.23" r="3.3"/>
<circle cx="1762.08" cy="494.61" r="3.3"/>
<circle cx="1765.33" cy="496.47" r="3.3"/>
<circle cx="1759.76" cy="500.19" r="3.3"/>
<circle cx="1793.68" cy="506.23" r="3.3"/>
<circle cx="1796.93" cy="506.23" r="3.3"/>
<circle cx="1800.65" cy="506.23" r="3.3"/>
<circle cx="1814.58" cy="506.23" r="3.3"/>
<circle cx="1817.84" cy="506.23" r="3.3"/>
<circle cx="1821.09" cy="506.23" r="3.3"/>
<circle cx="1839.21" cy="490.43" r="3.3"/>
<circle cx="1836.42" cy="500.19" r="3.3"/>
<circle cx="1842.46" cy="504.83" r="3.3"/>
<text transform="translate(1281.5 532) rotate(-45)" font-size="18" text-anchor="end" stroke-width="0.64">0-400</text>
<text transform="translate(1358.73 532) rotate(-45)" font-size="18" text-anchor="end" stroke-width="0.64">400-800</text>
<text transform="translate(1435.96 532) rotate(-45)" font-size="18" text-anchor="end" stroke-width="0.64">800-1200</text>
<text transform="translate(1513.19 532) rotate(-45)" font-size="18" text-anchor="end" stroke-width="0.64">1200-1600</text>
<text transform="translate(1590.42 532) rotate(-45)" font-size="18" text-anchor="end" stroke-width="0.64">1600-2000</text>
<text transform="translate(1667.65 532) rotate(-45)" font-size="18" text-anchor="end" stroke-width="0.64">2000-2400</text>
<text transform="translate(1744.88 532) rotate(-45)" font-size="18" text-anchor="end" stroke-width="0.64">2400-2800</text>
<text transform="translate(1822.11 532) rotate(-45)" font-size="18" text-anchor="end" stroke-width="0.64">2800-</text>
<text x="1359.44" y="624.2" font-size="25.01" text-anchor="start" stroke-width="0.68">Cross-sectional area (µm<tspan font-size="17" dy="-7.75">2</tspan><tspan dy="7.75">)</tspan></text>
<text transform="translate(1136 482.93) rotate(-90)" font-size="35.49" text-anchor="start" stroke-width="1.11">Frequency</text>
<text transform="translate(1178.6 521.44) rotate(-90)" font-size="35.51" text-anchor="start" stroke-width="1.11">distribution (%)</text>
<defs><filter id="bl2" x="-20%" y="-100%" width="140%" height="300%"><feGaussianBlur stdDeviation="2.2"/></filter><filter id="bl3" x="-20%" y="-100%" width="140%" height="300%"><feGaussianBlur stdDeviation="3.2"/></filter><filter id="bl5" x="-20%" y="-100%" width="140%" height="300%"><feGaussianBlur stdDeviation="5"/></filter></defs>
<clipPath id="bc1"><rect x="195.8" y="801.7" width="368.9" height="82.6"/></clipPath>
<rect x="195.8" y="801.7" width="368.9" height="82.6" fill="#f6f6f6"/>
<g clip-path="url(#bc1)">
<rect x="216" y="793" width="86" height="100" rx="9" fill="#d6d6d6" filter="url(#bl3)"/>
<rect x="337" y="793" width="91" height="100" rx="9" fill="#e6e6e6" filter="url(#bl3)"/>
<rect x="463" y="793" width="86" height="100" rx="9" fill="#dcdcdc" filter="url(#bl3)"/>
<rect x="216" y="837.7" width="86" height="11" rx="5.5" fill="#2e2e2e" filter="url(#bl3)"/>
<rect x="216" y="862" width="86" height="10" rx="5" fill="#a4a4a4" filter="url(#bl3)"/>
<rect x="337" y="841.2" width="91" height="8" rx="4" fill="#7a7a7a" filter="url(#bl3)"/>
<rect x="463" y="842.5" width="86" height="11" rx="5.5" fill="#333333" filter="url(#bl3)"/>
<rect x="463" y="866" width="86" height="10" rx="5" fill="#b0b0b0" filter="url(#bl3)"/>
</g>
<rect x="195.8" y="801.7" width="368.9" height="82.6" fill="none" stroke="#000" stroke-width="5" stroke-linejoin="round"/>
<clipPath id="bc2"><rect x="195.8" y="905.5" width="368.9" height="70.7"/></clipPath>
<rect x="195.8" y="905.5" width="368.9" height="70.7" fill="#f4f4f4"/>
<g clip-path="url(#bc2)">
<rect x="214" y="890" width="93" height="100" rx="9" fill="#b4b4b4" filter="url(#bl3)"/>
<rect x="337" y="890" width="94" height="100" rx="9" fill="#dedede" filter="url(#bl3)"/>
<rect x="463" y="890" width="94" height="100" rx="9" fill="#b0b0b0" filter="url(#bl3)"/>
<rect x="214" y="902.5" width="93" height="9" rx="4.5" fill="#3a3a3a" filter="url(#bl3)"/>
<rect x="214" y="928.2" width="93" height="14" rx="7" fill="#2e2e2e" filter="url(#bl3)"/>
<rect x="214" y="954" width="93" height="12" rx="6" fill="#6a6a6a" filter="url(#bl3)"/>
<rect x="337" y="929" width="94" height="8" rx="4" fill="#8e8e8e" filter="url(#bl3)"/>
<rect x="337" y="953" width="94" height="8" rx="4" fill="#c4c4c4" filter="url(#bl3)"/>
<rect x="463" y="901.5" width="94" height="11" rx="5.5" fill="#111111" filter="url(#bl3)"/>
<rect x="463" y="926" width="94" height="14" rx="7" fill="#262626" filter="url(#bl3)"/>
<rect x="463" y="954" width="94" height="12" rx="6" fill="#5c5c5c" filter="url(#bl3)"/>
</g>
<rect x="195.8" y="905.5" width="368.9" height="70.7" fill="none" stroke="#000" stroke-width="5" stroke-linejoin="round"/>
<clipPath id="bc3"><rect x="195.8" y="994.5" width="368.9" height="66.9"/></clipPath>
<rect x="195.8" y="994.5" width="368.9" height="66.9" fill="#e2e2e2"/>
<g clip-path="url(#bc3)">
<rect x="200" y="1008" width="360" height="54" rx="9" fill="#cfcfcf" filter="url(#bl5)"/>
<rect x="200" y="993.5" width="360" height="5" rx="2.5" fill="#fbfbfb" filter="url(#bl3)"/>
<rect x="214" y="1013.3" width="93" height="36" rx="9" fill="#b0b0b0" filter="url(#bl5)"/>
<rect x="332" y="1014.3" width="93" height="34" rx="9" fill="#b4b4b4" filter="url(#bl5)"/>
<rect x="449" y="1010.3" width="101" height="42" rx="9" fill="#a4a4a4" filter="url(#bl5)"/>
<rect x="214" y="1019.8" width="93" height="23" rx="9" fill="#000000" filter="url(#bl3)"/>
<rect x="333" y="1022.3" width="91" height="19" rx="9" fill="#000000" filter="url(#bl3)"/>
<rect x="450" y="1017.5" width="99" height="29" rx="9" fill="#000000" filter="url(#bl3)"/>
</g>
<rect x="195.8" y="994.5" width="368.9" height="66.9" fill="none" stroke="#000" stroke-width="5" stroke-linejoin="round"/>
<text x="55.32" y="849.2" font-size="34.66" text-anchor="start" stroke-width="0.94">PGC1α</text>
<text x="34.6" y="952.6" font-size="34.99" text-anchor="start" stroke-width="0.94">PGC1α4</text>
<text x="56.22" y="1038.9" font-size="35.02" text-anchor="start" stroke-width="0.95">tubulin</text>
<line x1="568.6" y1="836.7" x2="629.3" y2="836.7" stroke="#000" stroke-width="10.4" stroke-linecap="butt"/>
<line x1="569.3" y1="931.3" x2="629.8" y2="931.3" stroke="#000" stroke-width="10.4" stroke-linecap="butt"/>
<line x1="569.2" y1="1025.6" x2="629.8" y2="1025.6" stroke="#000" stroke-width="10.4" stroke-linecap="butt"/>
<text x="634.46" y="845.6" font-size="24.08" text-anchor="start" stroke-width="0.65">100kDa</text>
<text x="635.43" y="939.7" font-size="23.88" text-anchor="start" stroke-width="0.64">37kDa</text>
<text x="635.31" y="1033.8" font-size="23.92" text-anchor="start" stroke-width="0.65">50kDa</text>
<text x="178.38" y="1112" font-size="31.37" text-anchor="start" stroke-width="0.85">Before</text>
<text x="295.85" y="1112" font-size="32.13" text-anchor="start" stroke-width="0.87">Control</text>
<text x="427.85" y="1112" font-size="31.98" text-anchor="start" stroke-width="0.86">Myonectin</text>
<line x1="287.5" y1="1130.8" x2="548" y2="1130.8" stroke="#000" stroke-width="4.5" stroke-linecap="butt"/>
<text x="358.61" y="1174.3" font-size="31.79" text-anchor="start" stroke-width="0.86">Treatment</text>
<text x="884.71" y="745.2" font-size="21.19" text-anchor="start" stroke-width="0.57">P=0.039</text>
<text x="989.71" y="745.2" font-size="21.16" text-anchor="start" stroke-width="0.57">P=0.038</text>
<path d="M891.7 782.5 V767.9 H969 V782.5" fill="none" stroke="#000" stroke-width="2.6" stroke-linecap="round" stroke-linejoin="miter"/>
<path d="M979.1 782.5 V767.9 H1056.4 V782.5" fill="none" stroke="#000" stroke-width="2.6" stroke-linecap="round" stroke-linejoin="miter"/>
<rect x="861.3" y="876" width="52.8" height="189.2" fill="#ffffff"/>
<path d="M861.3 1065.2 V876 H914.1 V1065.2" fill="none" stroke="#000" stroke-width="4.2" stroke-linejoin="miter"/>
<rect x="947.7" y="968.6" width="52.2" height="96.6" fill="#bfbfbf"/>
<path d="M947.7 1065.2 V968.6 H999.9 V1065.2" fill="none" stroke="#000" stroke-width="4.2" stroke-linejoin="miter"/>
<rect x="1033.5" y="876" width="52.6" height="189.2" fill="#46289a"/>
<path d="M1033.5 1065.2 V876 H1086.1 V1065.2" fill="none" stroke="#000" stroke-width="4.2" stroke-linejoin="miter"/>
<line x1="888.3" y1="856" x2="888.3" y2="875" stroke="#000" stroke-width="1.6" stroke-linecap="butt"/>
<line x1="873.8" y1="856" x2="902.8" y2="856" stroke="#000" stroke-width="1.6" stroke-linecap="butt"/>
<line x1="974.4" y1="940" x2="974.4" y2="967" stroke="#000" stroke-width="1.6" stroke-linecap="butt"/>
<line x1="959.9" y1="940" x2="988.9" y2="940" stroke="#000" stroke-width="1.6" stroke-linecap="butt"/>
<line x1="1060.3" y1="847.9" x2="1060.3" y2="875" stroke="#000" stroke-width="1.6" stroke-linecap="butt"/>
<line x1="1045.8" y1="847.9" x2="1074.8" y2="847.9" stroke="#000" stroke-width="1.6" stroke-linecap="butt"/>
<line x1="830.5" y1="776.6" x2="830.5" y2="1066.7" stroke="#000" stroke-width="3" stroke-linecap="butt"/>
<line x1="818.5" y1="1065.2" x2="830.5" y2="1065.2" stroke="#000" stroke-width="3" stroke-linecap="butt"/>
<line x1="818.5" y1="969.5" x2="830.5" y2="969.5" stroke="#000" stroke-width="3" stroke-linecap="butt"/>
<line x1="818.5" y1="873.8" x2="830.5" y2="873.8" stroke="#000" stroke-width="3" stroke-linecap="butt"/>
<line x1="818.5" y1="778.1" x2="830.5" y2="778.1" stroke="#000" stroke-width="3" stroke-linecap="butt"/>
<line x1="818.8" y1="1065.2" x2="1117.3" y2="1065.2" stroke="#000" stroke-width="3" stroke-linecap="butt"/>
<text transform="translate(814.5 1073.33) scale(1 1.07)" font-size="21.8" text-anchor="end" stroke-width="0.84">0.0</text>
<text transform="translate(814.5 977.63) scale(1 1.07)" font-size="21.8" text-anchor="end" stroke-width="0.84">0.5</text>
<text transform="translate(814.5 881.93) scale(1 1.07)" font-size="21.8" text-anchor="end" stroke-width="0.84">1.0</text>
<text transform="translate(814.5 786.23) scale(1 1.07)" font-size="21.8" text-anchor="end" stroke-width="0.84">1.5</text>
<circle cx="888" cy="814.3" r="6"/>
<circle cx="888" cy="854.3" r="6"/>
<circle cx="876.2" cy="892.2" r="6"/>
<circle cx="899.2" cy="902.4" r="6"/>
<circle cx="876.2" cy="908.5" r="6"/>
<circle cx="973.7" cy="878" r="6"/>
<circle cx="973.7" cy="943.8" r="6"/>
<circle cx="973.7" cy="979.4" r="6"/>
<circle cx="973.7" cy="1002.7" r="6"/>
<circle cx="973.7" cy="1029.1" r="6"/>
<circle cx="1059.8" cy="806.9" r="6"/>
<circle cx="1059.8" cy="835.7" r="6"/>
<circle cx="1059.8" cy="880.4" r="6"/>
<circle cx="1059.8" cy="892.6" r="6"/>
<circle cx="1059.8" cy="952.7" r="6"/>
<text x="815.95" y="1108.4" font-size="28.17" text-anchor="start" stroke-width="0.76">Before</text>
<text x="924.35" y="1108.4" font-size="28.24" text-anchor="start" stroke-width="0.76">Control</text>
<text x="1041.13" y="1108.4" font-size="28.45" text-anchor="start" stroke-width="0.77">Myonectin</text>
<line x1="898.2" y1="1126.3" x2="1163.1" y2="1126.3" stroke="#000" stroke-width="4" stroke-linecap="butt"/>
<text x="953" y="1164.3" font-size="28.27" text-anchor="start" stroke-width="0.76">Treatment</text>
<text transform="translate(753.4 1082.61) rotate(-90)" font-size="35.22" text-anchor="start" stroke-width="1.1">PGC1α protein levels</text>
<text x="1431.82" y="733.4" font-size="21.05" text-anchor="start" stroke-width="0.57">P=0.031</text>
<text x="1548.33" y="732.8" font-size="20.85" text-anchor="start" stroke-width="0.56">P=0.004</text>
<path d="M1442.6 773 V757.8 H1516.1 V773" fill="none" stroke="#000" stroke-width="2.6" stroke-linecap="round" stroke-linejoin="miter"/>
<path d="M1545.6 773.6 V758.4 H1618.7 V773.6" fill="none" stroke="#000" stroke-width="2.6" stroke-linecap="round" stroke-linejoin="miter"/>
<rect x="1414.2" y="865.3" width="56.4" height="200.7" fill="#ffffff"/>
<path d="M1414.2 1066 V865.3 H1470.6 V1066" fill="none" stroke="#000" stroke-width="4.2" stroke-linejoin="miter"/>
<rect x="1505.7" y="934.5" width="55.7" height="131.5" fill="#bfbfbf"/>
<path d="M1505.7 1066 V934.5 H1561.4 V1066" fill="none" stroke="#000" stroke-width="4.2" stroke-linejoin="miter"/>
<rect x="1596.8" y="837.4" width="56.1" height="228.6" fill="#46289a"/>
<path d="M1596.8 1066 V837.4 H1652.9 V1066" fill="none" stroke="#000" stroke-width="4.2" stroke-linejoin="miter"/>
<line x1="1442.4" y1="854.6" x2="1442.4" y2="864" stroke="#000" stroke-width="1.6" stroke-linecap="butt"/>
<line x1="1426.9" y1="854.6" x2="1457.9" y2="854.6" stroke="#000" stroke-width="1.6" stroke-linecap="butt"/>
<line x1="1533.5" y1="909.5" x2="1533.5" y2="934" stroke="#000" stroke-width="1.6" stroke-linecap="butt"/>
<line x1="1518" y1="909.5" x2="1549" y2="909.5" stroke="#000" stroke-width="1.6" stroke-linecap="butt"/>
<line x1="1624.8" y1="819.4" x2="1624.8" y2="836" stroke="#000" stroke-width="1.6" stroke-linecap="butt"/>
<line x1="1609.3" y1="819.4" x2="1640.3" y2="819.4" stroke="#000" stroke-width="1.6" stroke-linecap="butt"/>
<line x1="1381.3" y1="759.55" x2="1381.3" y2="1067.5" stroke="#000" stroke-width="3" stroke-linecap="butt"/>
<line x1="1369.3" y1="1066" x2="1381.3" y2="1066" stroke="#000" stroke-width="3" stroke-linecap="butt"/>
<line x1="1369.3" y1="964.35" x2="1381.3" y2="964.35" stroke="#000" stroke-width="3" stroke-linecap="butt"/>
<line x1="1369.3" y1="862.7" x2="1381.3" y2="862.7" stroke="#000" stroke-width="3" stroke-linecap="butt"/>
<line x1="1369.3" y1="761.05" x2="1381.3" y2="761.05" stroke="#000" stroke-width="3" stroke-linecap="butt"/>
<line x1="1368.7" y1="1066" x2="1685.5" y2="1066" stroke="#000" stroke-width="3" stroke-linecap="butt"/>
<text transform="translate(1364 1074.69) scale(1 1.1)" font-size="23" text-anchor="end" stroke-width="0.87">0.0</text>
<text transform="translate(1364 973.04) scale(1 1.1)" font-size="23" text-anchor="end" stroke-width="0.87">0.5</text>
<text transform="translate(1364 871.39) scale(1 1.1)" font-size="23" text-anchor="end" stroke-width="0.87">1.0</text>
<text transform="translate(1364 769.74) scale(1 1.1)" font-size="23" text-anchor="end" stroke-width="0.87">1.5</text>
<circle cx="1442.2" cy="836.3" r="6.3"/>
<circle cx="1454.1" cy="856" r="6.3"/>
<circle cx="1429.7" cy="863.8" r="6.3"/>
<circle cx="1454.1" cy="877" r="6.3"/>
<circle cx="1429.7" cy="883.1" r="6.3"/>
<circle cx="1521.5" cy="886.5" r="6.3"/>
<circle cx="1545.6" cy="898" r="6.3"/>
<circle cx="1533.4" cy="920.4" r="6.3"/>
<circle cx="1533.4" cy="942.5" r="6.3"/>
<circle cx="1533.4" cy="1016.9" r="6.3"/>
<circle cx="1624.5" cy="792.6" r="6.3"/>
<circle cx="1637" cy="817" r="6.3"/>
<circle cx="1612.6" cy="824.8" r="6.3"/>
<circle cx="1612.6" cy="871.2" r="6.3"/>
<circle cx="1637" cy="870.6" r="6.3"/>
<text x="1372.15" y="1108.7" font-size="28.07" text-anchor="start" stroke-width="0.76">Before</text>
<text x="1480.96" y="1108.7" font-size="28.04" text-anchor="start" stroke-width="0.76">Control</text>
<text x="1597.43" y="1108.7" font-size="28.45" text-anchor="start" stroke-width="0.77">Myonectin</text>
<line x1="1454.4" y1="1127" x2="1718.7" y2="1127" stroke="#000" stroke-width="4" stroke-linecap="butt"/>
<text x="1509.2" y="1164.3" font-size="28.27" text-anchor="start" stroke-width="0.76">Treatment</text>
<text transform="translate(1289 1085.91) rotate(-90)" font-size="35.06" text-anchor="start" stroke-width="1.1">PGC1α4 protein levels</text>
<text x="218.88" y="1384.7" font-size="35.4" text-anchor="start" stroke-width="0.96">mdx mice</text>
<text x="251.8" y="1415.8" font-size="21.35" text-anchor="start" stroke-width="0.58">P=0.018</text>
<path d="M222.6 1461.6 V1439.5 H361.1 V1461.6" fill="none" stroke="#000" stroke-width="3.6" stroke-linecap="round" stroke-linejoin="miter"/>
<rect x="172.1" y="1550.1" width="93.8" height="318.1" fill="#bfbfbf"/>
<path d="M172.1 1868.2 V1550.1 H265.9 V1868.2" fill="none" stroke="#000" stroke-width="5.4" stroke-linejoin="miter"/>
<rect x="320.1" y="1512.2" width="93.9" height="356" fill="#46289a"/>
<path d="M320.1 1868.2 V1512.2 H414 V1868.2" fill="none" stroke="#000" stroke-width="5.4" stroke-linejoin="miter"/>
<line x1="218.5" y1="1537.8" x2="218.5" y2="1550" stroke="#000" stroke-width="2" stroke-linecap="butt"/>
<line x1="193" y1="1537.8" x2="244" y2="1537.8" stroke="#000" stroke-width="2" stroke-linecap="butt"/>
<line x1="366.9" y1="1501.9" x2="366.9" y2="1512" stroke="#000" stroke-width="2" stroke-linecap="butt"/>
<line x1="341.4" y1="1501.9" x2="392.4" y2="1501.9" stroke="#000" stroke-width="2" stroke-linecap="butt"/>
<line x1="120.3" y1="1467.4" x2="120.3" y2="1870.3" stroke="#000" stroke-width="4.2" stroke-linecap="butt"/>
<line x1="104.8" y1="1868.2" x2="120.3" y2="1868.2" stroke="#000" stroke-width="4.2" stroke-linecap="butt"/>
<line x1="104.8" y1="1806.55" x2="120.3" y2="1806.55" stroke="#000" stroke-width="4.2" stroke-linecap="butt"/>
<line x1="104.8" y1="1744.9" x2="120.3" y2="1744.9" stroke="#000" stroke-width="4.2" stroke-linecap="butt"/>
<line x1="104.8" y1="1683.25" x2="120.3" y2="1683.25" stroke="#000" stroke-width="4.2" stroke-linecap="butt"/>
<line x1="104.8" y1="1621.6" x2="120.3" y2="1621.6" stroke="#000" stroke-width="4.2" stroke-linecap="butt"/>
<line x1="104.8" y1="1559.95" x2="120.3" y2="1559.95" stroke="#000" stroke-width="4.2" stroke-linecap="butt"/>
<line x1="104.8" y1="1498.3" x2="120.3" y2="1498.3" stroke="#000" stroke-width="4.2" stroke-linecap="butt"/>
<line x1="105.5" y1="1868.2" x2="465.8" y2="1868.2" stroke="#000" stroke-width="4.2" stroke-linecap="butt"/>
<text transform="translate(100.6 1879.54) scale(1 1.26)" font-size="26" text-anchor="end" stroke-width="0.95">0</text>
<text transform="translate(100.6 1817.89) scale(1 1.26)" font-size="26" text-anchor="end" stroke-width="0.95">1</text>
<text transform="translate(100.6 1756.24) scale(1 1.26)" font-size="26" text-anchor="end" stroke-width="0.95">2</text>
<text transform="translate(100.6 1694.59) scale(1 1.26)" font-size="26" text-anchor="end" stroke-width="0.95">3</text>
<text transform="translate(100.6 1632.94) scale(1 1.26)" font-size="26" text-anchor="end" stroke-width="0.95">4</text>
<text transform="translate(100.6 1571.29) scale(1 1.26)" font-size="26" text-anchor="end" stroke-width="0.95">5</text>
<text transform="translate(100.6 1509.64) scale(1 1.26)" font-size="26" text-anchor="end" stroke-width="0.95">6</text>
<ellipse cx="190.7" cy="1527.8" rx="7" ry="7.8"/>
<ellipse cx="218.5" cy="1540" rx="7" ry="7.8"/>
<ellipse cx="246.3" cy="1528.8" rx="7" ry="7.8"/>
<ellipse cx="218.5" cy="1561.7" rx="7" ry="7.8"/>
<ellipse cx="218.5" cy="1581.3" rx="7" ry="7.8"/>
<ellipse cx="366.9" cy="1480.9" rx="7" ry="7.8"/>
<ellipse cx="339.8" cy="1507.3" rx="7" ry="7.8"/>
<ellipse cx="339.8" cy="1524.2" rx="7" ry="7.8"/>
<ellipse cx="366.9" cy="1517.5" rx="7" ry="7.8"/>
<ellipse cx="394.6" cy="1520.8" rx="7" ry="7.8"/>
<text x="149.56" y="1923.4" font-size="35.39" text-anchor="start" stroke-width="0.96">Control</text>
<text x="299.18" y="1923.4" font-size="35.42" text-anchor="start" stroke-width="0.96">Myonectin</text>
<text transform="translate(45 1908.64) rotate(-90)" font-size="35.32" text-anchor="start" stroke-width="1.1">Gastroc. weight (mg)/BW (g)</text>
<clipPath id="hc11"><rect x="652.6" y="1291.2" width="215.7" height="167.6"/></clipPath>
<rect x="652.6" y="1291.2" width="215.7" height="167.6" fill="#e1b5e2"/>
<g clip-path="url(#hc11)"><g filter="url(#hb)">
<path d="M655.8 1458.0L665.6 1457.4M684.8 1515.6L665.6 1457.4M664.1 1287.2L647.2 1298.8M225.6 1399.9L630.5 1342.0M647.2 1298.8L652.8 1314.5M630.5 1342.0L652.8 1314.5M664.1 1287.2L686.1 1290.6M686.1 1290.6L690.7 1301.4M690.7 1301.4L664.2 1318.7M652.8 1314.5L664.2 1318.7M917.5 1316.7L859.4 1297.4M756.4 908.8L790.0 1294.9M829.0 -875.0L832.9 1284.2M790.0 1294.9L820.0 1297.0M832.9 1284.2L820.0 1297.0M732.4 1154.7L686.1 1290.6M859.4 1297.4L854.6 1299.0M854.6 1299.0L832.9 1284.2M667.4 1455.7L695.7 1459.8M667.4 1455.7L672.5 1437.5M672.5 1437.5L698.6 1432.8M698.6 1432.8L701.4 1439.8M701.4 1439.8L695.7 1459.8M684.8 1515.6L700.1 1468.7M665.6 1457.4L667.4 1455.7M700.1 1468.7L695.7 1459.8M780.4 1386.6L802.0 1371.7M780.4 1386.6L784.6 1415.4M802.0 1371.7L813.4 1404.7M813.4 1404.7L801.7 1418.2M784.6 1415.4L801.7 1418.2M768.7 1383.6L780.4 1386.6M768.7 1383.6L746.4 1406.3M777.3 1421.9L746.4 1406.3M777.3 1421.9L784.6 1415.4M817.2 1905.3L851.8 1480.1M774.5 1530.5L801.2 1457.0M801.2 1457.0L801.3 1457.0M851.8 1480.1L830.3 1451.8M801.3 1457.0L830.3 1451.8M801.2 1457.0L774.0 1431.8M774.0 1431.8L777.3 1421.9M801.7 1418.2L807.9 1427.4M801.3 1457.0L807.9 1427.4M854.6 1299.0L849.8 1321.3M820.0 1297.0L823.2 1314.1M849.8 1321.3L823.2 1314.1M782.0 1305.8L790.0 1294.9M782.0 1305.8L809.2 1337.1M823.2 1314.1L809.2 1337.1M782.0 1305.8L780.1 1306.5M735.2 1232.2L755.7 1293.1M755.7 1293.1L780.1 1306.5M766.1 1343.9L801.2 1354.3M766.1 1343.9L768.1 1322.2M801.2 1354.3L809.3 1338.4M809.2 1337.1L809.3 1338.4M780.1 1306.5L768.1 1322.2M658.0 1380.8L672.9 1398.3M658.0 1380.8L562.6 1411.3M661.3 1419.6L673.5 1402.4M661.3 1419.6L618.5 1424.8M673.5 1402.4L672.9 1398.3M630.5 1342.0L645.9 1349.6M645.9 1349.6L658.2 1379.9M658.2 1379.9L658.0 1380.8M672.5 1437.5L661.3 1419.6M702.5 1420.5L698.6 1432.8M702.5 1420.5L701.5 1416.2M701.5 1416.2L673.5 1402.4M655.8 1458.0L618.5 1424.8M763.6 1440.4L736.9 1428.2M763.6 1440.4L756.6 1488.1M736.9 1428.2L727.7 1450.1M727.7 1450.1L731.2 1463.8M756.6 1488.1L731.2 1463.8M774.0 1431.8L763.6 1440.4M736.6 1427.4L736.9 1428.2M736.6 1427.4L742.3 1407.2M742.3 1407.2L746.4 1406.3M774.5 1530.5L756.6 1488.1M702.5 1420.5L736.6 1427.4M701.4 1439.8L727.7 1450.1M700.1 1468.7L731.2 1463.8M813.4 1404.7L834.7 1404.3M807.9 1427.4L833.8 1431.6M834.7 1404.3L833.8 1431.6M803.8 1368.6L841.5 1376.7M803.8 1368.6L802.0 1371.7M841.5 1376.7L838.6 1400.3M834.7 1404.3L838.6 1400.3M830.3 1451.8L834.5 1432.4M834.5 1432.4L833.8 1431.6M851.8 1480.1L862.3 1464.0M862.3 1464.0L862.0 1433.2M834.5 1432.4L862.0 1433.2M867.2 1336.8L853.2 1330.1M867.2 1336.8L866.3 1350.8M853.2 1330.1L837.2 1341.6M866.3 1350.8L845.8 1375.5M837.2 1341.6L842.1 1376.3M842.1 1376.3L845.8 1375.5M917.5 1316.7L867.2 1336.8M849.8 1321.3L853.2 1330.1M809.3 1338.4L837.2 1341.6M801.2 1354.3L803.8 1368.6M841.5 1376.7L842.1 1376.3M676.2 1363.4L671.6 1343.5M676.2 1363.4L701.3 1370.2M701.3 1370.2L697.6 1335.0M697.6 1335.0L674.6 1338.8M674.6 1338.8L671.6 1343.5M645.9 1349.6L671.6 1343.5M658.2 1379.9L676.2 1363.4M672.9 1398.3L703.9 1373.3M703.9 1373.3L701.3 1370.2M664.2 1318.7L674.6 1338.8M728.3 1335.1L698.3 1334.2M728.3 1335.1L733.9 1314.7M733.9 1314.7L733.4 1312.7M733.4 1312.7L721.2 1300.0M721.2 1300.0L696.0 1305.1M696.0 1305.1L698.3 1334.2M755.7 1293.1L733.4 1312.7M768.1 1322.2L733.9 1314.7M735.2 1232.2L721.2 1300.0M690.7 1301.4L696.0 1305.1M697.6 1335.0L698.3 1334.2M704.6 1373.6L733.4 1344.0M704.6 1373.6L718.7 1388.7M724.1 1389.3L751.6 1363.6M724.1 1389.3L718.7 1388.7M733.4 1344.0L751.4 1354.8M751.4 1354.8L751.6 1363.6M703.9 1373.3L704.6 1373.6M728.3 1335.1L733.4 1344.0M701.5 1416.2L718.7 1388.7M768.7 1383.6L751.6 1363.6M742.3 1407.2L724.1 1389.3M766.1 1343.9L751.4 1354.8M869.2 1425.7L865.6 1413.7M869.2 1425.7L960.8 1439.0M865.6 1413.7L877.2 1387.3M10437.5 1374.5L895.7 1380.6M895.7 1380.6L877.2 1387.3M838.6 1400.3L865.6 1413.7M862.0 1433.2L869.2 1425.7M862.3 1464.0L960.8 1439.0M845.8 1375.5L877.2 1387.3M866.3 1350.8L895.7 1380.6" fill="none" stroke="#e9c6ea" stroke-width="0.9" stroke-linecap="round"/>
<ellipse cx="758.4" cy="1349.6" rx="3.4" ry="1.7" fill="#6a5cb0" transform="rotate(143 758.4 1349.6)"/>
<ellipse cx="865.6" cy="1429.5" rx="3.4" ry="1.7" fill="#6a5cb0" transform="rotate(-46 865.6 1429.5)"/>
<ellipse cx="802.6" cy="1362.0" rx="3.4" ry="1.7" fill="#6a5cb0" transform="rotate(80 802.6 1362.0)"/>
<ellipse cx="704.7" cy="1373.5" rx="3.4" ry="1.7" fill="#6a5cb0" transform="rotate(-46 704.7 1373.5)"/>
<ellipse cx="866.8" cy="1336.7" rx="3.4" ry="1.7" fill="#6a5cb0" transform="rotate(-154 866.8 1336.7)"/>
<ellipse cx="773.7" cy="1108.0" rx="3.4" ry="1.7" fill="#6a5cb0" transform="rotate(85 773.7 1108.0)"/>
<ellipse cx="890.1" cy="1327.6" rx="3.4" ry="1.7" fill="#6a5cb0" transform="rotate(158 890.1 1327.6)"/>
<ellipse cx="893.4" cy="1381.4" rx="3.4" ry="1.7" fill="#6a5cb0" transform="rotate(160 893.4 1381.4)"/>
<ellipse cx="695.4" cy="1483.2" rx="3.4" ry="1.7" fill="#6a5cb0" transform="rotate(-72 695.4 1483.2)"/>
<ellipse cx="854.9" cy="1298.9" rx="3.4" ry="1.7" fill="#6a5cb0" transform="rotate(161 854.9 1298.9)"/>
<ellipse cx="715.9" cy="1334.7" rx="3.4" ry="1.7" fill="#6a5cb0" transform="rotate(-178 715.9 1334.7)"/>
<ellipse cx="850.7" cy="1323.7" rx="3.4" ry="1.7" fill="#6a5cb0" transform="rotate(69 850.7 1323.7)"/>
<ellipse cx="708.8" cy="1302.5" rx="3.4" ry="1.7" fill="#6a5cb0" transform="rotate(169 708.8 1302.5)"/>
<ellipse cx="834.3" cy="1416.1" rx="3.4" ry="1.7" fill="#6a5cb0" transform="rotate(92 834.3 1416.1)"/>
<ellipse cx="708.0" cy="1302.7" rx="3.4" ry="1.7" fill="#6a5cb0" transform="rotate(169 708.0 1302.7)"/>
<ellipse cx="781.2" cy="1392.1" rx="3.4" ry="1.7" fill="#6a5cb0" transform="rotate(82 781.2 1392.1)"/>
<ellipse cx="690.4" cy="1300.6" rx="3.4" ry="1.7" fill="#6a5cb0" transform="rotate(67 690.4 1300.6)"/>
<ellipse cx="755.6" cy="1411.0" rx="3.4" ry="1.7" fill="#6a5cb0" transform="rotate(-153 755.6 1411.0)"/>
<ellipse cx="631.3" cy="1341.0" rx="3.4" ry="1.7" fill="#6a5cb0" transform="rotate(-51 631.3 1341.0)"/>
<ellipse cx="807.9" cy="1455.8" rx="3.4" ry="1.7" fill="#6a5cb0" transform="rotate(-10 807.9 1455.8)"/>
<ellipse cx="761.3" cy="1455.8" rx="3.4" ry="1.7" fill="#6a5cb0" transform="rotate(98 761.3 1455.8)"/>
<ellipse cx="835.6" cy="1403.3" rx="3.4" ry="1.7" fill="#6a5cb0" transform="rotate(-46 835.6 1403.3)"/>
<ellipse cx="697.7" cy="1334.9" rx="3.4" ry="1.7" fill="#6a5cb0" transform="rotate(-47 697.7 1334.9)"/>
<ellipse cx="869.9" cy="1354.5" rx="3.4" ry="1.7" fill="#6a5cb0" transform="rotate(45 869.9 1354.5)"/>
<ellipse cx="741.3" cy="1373.3" rx="3.4" ry="1.7" fill="#6a5cb0" transform="rotate(-43 741.3 1373.3)"/>
<ellipse cx="780.7" cy="1306.3" rx="3.4" ry="1.7" fill="#6a5cb0" transform="rotate(160 780.7 1306.3)"/>
<ellipse cx="674.6" cy="1338.9" rx="3.4" ry="1.7" fill="#6a5cb0" transform="rotate(122 674.6 1338.9)"/>
<ellipse cx="803.4" cy="1366.1" rx="3.4" ry="1.7" fill="#6a5cb0" transform="rotate(80 803.4 1366.1)"/>
<ellipse cx="786.6" cy="1443.4" rx="3.4" ry="1.7" fill="#6a5cb0" transform="rotate(-137 786.6 1443.4)"/>
<ellipse cx="712.5" cy="1398.6" rx="3.4" ry="1.7" fill="#6a5cb0" transform="rotate(-58 712.5 1398.6)"/>
<ellipse cx="729.4" cy="1337.0" rx="3.4" ry="1.7" fill="#6a5cb0" transform="rotate(60 729.4 1337.0)"/>
<ellipse cx="731.2" cy="1396.2" rx="3.4" ry="1.7" fill="#6a5cb0" transform="rotate(-135 731.2 1396.2)"/>
<ellipse cx="779.0" cy="1420.4" rx="3.4" ry="1.7" fill="#6a5cb0" transform="rotate(-42 779.0 1420.4)"/>
<ellipse cx="802.1" cy="1371.4" rx="3.4" ry="1.7" fill="#6a5cb0" transform="rotate(122 802.1 1371.4)"/>
<ellipse cx="763.7" cy="1504.9" rx="3.4" ry="1.7" fill="#6a5cb0" transform="rotate(-113 763.7 1504.9)"/>
<ellipse cx="820.1" cy="1319.1" rx="3.4" ry="1.7" fill="#6a5cb0" transform="rotate(121 820.1 1319.1)"/>
<ellipse cx="810.7" cy="1334.5" rx="3.4" ry="1.7" fill="#6a5cb0" transform="rotate(121 810.7 1334.5)"/>
<ellipse cx="783.8" cy="1416.1" rx="3.4" ry="1.7" fill="#6a5cb0" transform="rotate(-42 783.8 1416.1)"/>
<ellipse cx="754.9" cy="1410.6" rx="3.4" ry="1.7" fill="#6a5cb0" transform="rotate(-153 754.9 1410.6)"/>
<ellipse cx="668.2" cy="1430.6" rx="3.4" ry="1.7" fill="#6a5cb0" transform="rotate(-122 668.2 1430.6)"/>
<ellipse cx="672.1" cy="1342.7" rx="3.4" ry="1.7" fill="#6a5cb0" transform="rotate(122 672.1 1342.7)"/>
<ellipse cx="673.7" cy="1352.6" rx="3.4" ry="1.7" fill="#6a5cb0" transform="rotate(-103 673.7 1352.6)"/>
<ellipse cx="764.2" cy="1388.2" rx="3.4" ry="1.7" fill="#6a5cb0" transform="rotate(134 764.2 1388.2)"/>
<ellipse cx="647.8" cy="1300.3" rx="3.4" ry="1.7" fill="#6a5cb0" transform="rotate(71 647.8 1300.3)"/>
<ellipse cx="857.0" cy="1409.4" rx="3.4" ry="1.7" fill="#6a5cb0" transform="rotate(26 857.0 1409.4)"/>
<ellipse cx="834.4" cy="1432.3" rx="3.4" ry="1.7" fill="#6a5cb0" transform="rotate(-127 834.4 1432.3)"/>
<ellipse cx="713.5" cy="1383.2" rx="3.4" ry="1.7" fill="#6a5cb0" transform="rotate(47 713.5 1383.2)"/>
<ellipse cx="822.8" cy="1372.7" rx="3.4" ry="1.7" fill="#6a5cb0" transform="rotate(12 822.8 1372.7)"/>
<ellipse cx="803.8" cy="1330.9" rx="3.4" ry="1.7" fill="#6a5cb0" transform="rotate(49 803.8 1330.9)"/>
<ellipse cx="753.3" cy="1295.1" rx="3.4" ry="1.7" fill="#6a5cb0" transform="rotate(139 753.3 1295.1)"/>
<ellipse cx="661.5" cy="1317.7" rx="3.4" ry="1.7" fill="#6a5cb0" transform="rotate(20 661.5 1317.7)"/>
<ellipse cx="719.2" cy="1388.7" rx="3.4" ry="1.7" fill="#6a5cb0" transform="rotate(-174 719.2 1388.7)"/>
<ellipse cx="752.4" cy="1295.9" rx="3.4" ry="1.7" fill="#6a5cb0" transform="rotate(139 752.4 1295.9)"/>
<ellipse cx="782.9" cy="1304.6" rx="3.4" ry="1.7" fill="#6a5cb0" transform="rotate(-54 782.9 1304.6)"/>
<ellipse cx="850.5" cy="1317.8" rx="3.4" ry="1.7" fill="#6a5cb0" transform="rotate(102 850.5 1317.8)"/>
<ellipse cx="757.1" cy="1484.6" rx="3.4" ry="1.7" fill="#6a5cb0" transform="rotate(98 757.1 1484.6)"/>
<ellipse cx="666.6" cy="1456.4" rx="3.4" ry="1.7" fill="#6a5cb0" transform="rotate(-43 666.6 1456.4)"/>
<ellipse cx="784.3" cy="1415.7" rx="3.4" ry="1.7" fill="#6a5cb0" transform="rotate(-42 784.3 1415.7)"/>
<ellipse cx="728.7" cy="1333.5" rx="3.4" ry="1.7" fill="#6a5cb0" transform="rotate(-75 728.7 1333.5)"/>
<ellipse cx="666.1" cy="1456.8" rx="3.4" ry="1.7" fill="#6a5cb0" transform="rotate(-43 666.1 1456.8)"/>
<ellipse cx="733.7" cy="1313.8" rx="3.4" ry="1.7" fill="#6a5cb0" transform="rotate(-105 733.7 1313.8)"/>
<ellipse cx="836.4" cy="1402.5" rx="3.4" ry="1.7" fill="#6a5cb0" transform="rotate(-46 836.4 1402.5)"/>
<ellipse cx="834.8" cy="1432.4" rx="3.4" ry="1.7" fill="#6a5cb0" transform="rotate(2 834.8 1432.4)"/>
<ellipse cx="868.5" cy="1300.4" rx="3.4" ry="1.7" fill="#6a5cb0" transform="rotate(-162 868.5 1300.4)"/>
<ellipse cx="838.9" cy="1318.4" rx="3.4" ry="1.7" fill="#6a5cb0" transform="rotate(-165 838.9 1318.4)"/>
<ellipse cx="834.0" cy="1431.8" rx="3.4" ry="1.7" fill="#6a5cb0" transform="rotate(-127 834.0 1431.8)"/>
<ellipse cx="852.9" cy="1329.4" rx="3.4" ry="1.7" fill="#6a5cb0" transform="rotate(69 852.9 1329.4)"/>
<ellipse cx="802.3" cy="1419.1" rx="3.4" ry="1.7" fill="#6a5cb0" transform="rotate(56 802.3 1419.1)"/>
<ellipse cx="356.6" cy="1381.2" rx="3.4" ry="1.7" fill="#6a5cb0" transform="rotate(-8 356.6 1381.2)"/>
<ellipse cx="700.9" cy="1438.4" rx="3.4" ry="1.7" fill="#6a5cb0" transform="rotate(68 700.9 1438.4)"/>
<ellipse cx="851.7" cy="1326.3" rx="3.4" ry="1.7" fill="#6a5cb0" transform="rotate(69 851.7 1326.3)"/>
<ellipse cx="795.7" cy="1321.6" rx="3.4" ry="1.7" fill="#6a5cb0" transform="rotate(49 795.7 1321.6)"/>
<ellipse cx="834.2" cy="1375.1" rx="3.4" ry="1.7" fill="#6a5cb0" transform="rotate(12 834.2 1375.1)"/>
<ellipse cx="669.4" cy="1432.5" rx="3.4" ry="1.7" fill="#6a5cb0" transform="rotate(-122 669.4 1432.5)"/>
<ellipse cx="804.7" cy="1414.8" rx="3.4" ry="1.7" fill="#6a5cb0" transform="rotate(131 804.7 1414.8)"/>
<ellipse cx="779.0" cy="1436.4" rx="3.4" ry="1.7" fill="#6a5cb0" transform="rotate(-137 779.0 1436.4)"/>
<ellipse cx="850.2" cy="1322.5" rx="3.4" ry="1.7" fill="#6a5cb0" transform="rotate(69 850.2 1322.5)"/>
<ellipse cx="832.1" cy="1404.3" rx="3.4" ry="1.7" fill="#6a5cb0" transform="rotate(-1 832.1 1404.3)"/>
<ellipse cx="862.0" cy="1440.3" rx="3.4" ry="1.7" fill="#6a5cb0" transform="rotate(-91 862.0 1440.3)"/>
<ellipse cx="839.0" cy="1318.4" rx="3.4" ry="1.7" fill="#6a5cb0" transform="rotate(-165 839.0 1318.4)"/>
<ellipse cx="782.6" cy="1305.1" rx="3.4" ry="1.7" fill="#6a5cb0" transform="rotate(-54 782.6 1305.1)"/>
<ellipse cx="815.2" cy="1371.1" rx="3.4" ry="1.7" fill="#6a5cb0" transform="rotate(12 815.2 1371.1)"/>
<ellipse cx="700.0" cy="1468.6" rx="3.4" ry="1.7" fill="#6a5cb0" transform="rotate(-116 700.0 1468.6)"/>
<ellipse cx="834.4" cy="1432.6" rx="3.4" ry="1.7" fill="#6a5cb0" transform="rotate(-78 834.4 1432.6)"/>
<ellipse cx="829.9" cy="-373.9" rx="3.4" ry="1.7" fill="#6a5cb0" transform="rotate(90 829.9 -373.9)"/>
<ellipse cx="770.4" cy="1434.7" rx="3.4" ry="1.7" fill="#6a5cb0" transform="rotate(140 770.4 1434.7)"/>
<ellipse cx="851.7" cy="1326.3" rx="3.4" ry="1.7" fill="#6a5cb0" transform="rotate(69 851.7 1326.3)"/>
<ellipse cx="702.8" cy="1414.1" rx="3.4" ry="1.7" fill="#6a5cb0" transform="rotate(-58 702.8 1414.1)"/>
<ellipse cx="718.7" cy="1388.7" rx="3.4" ry="1.7" fill="#6a5cb0" transform="rotate(-174 718.7 1388.7)"/>
<ellipse cx="767.5" cy="1328.7" rx="3.4" ry="1.7" fill="#6a5cb0" transform="rotate(-85 767.5 1328.7)"/>
<ellipse cx="845.8" cy="1375.6" rx="3.4" ry="1.7" fill="#6a5cb0" transform="rotate(-11 845.8 1375.6)"/>
<ellipse cx="633.0" cy="1338.8" rx="3.4" ry="1.7" fill="#6a5cb0" transform="rotate(-51 633.0 1338.8)"/>
<ellipse cx="783.5" cy="1407.9" rx="3.4" ry="1.7" fill="#6a5cb0" transform="rotate(82 783.5 1407.9)"/>
<ellipse cx="658.1" cy="1380.3" rx="3.4" ry="1.7" fill="#6a5cb0" transform="rotate(104 658.1 1380.3)"/>
<ellipse cx="705.3" cy="1374.4" rx="3.4" ry="1.7" fill="#6a5cb0" transform="rotate(47 705.3 1374.4)"/>
<ellipse cx="780.8" cy="1306.3" rx="3.4" ry="1.7" fill="#6a5cb0" transform="rotate(160 780.8 1306.3)"/>
<ellipse cx="662.4" cy="1288.3" rx="3.4" ry="1.7" fill="#6a5cb0" transform="rotate(145 662.4 1288.3)"/>
<ellipse cx="649.3" cy="1357.9" rx="3.4" ry="1.7" fill="#6a5cb0" transform="rotate(68 649.3 1357.9)"/>
<ellipse cx="824.6" cy="1373.1" rx="3.4" ry="1.7" fill="#6a5cb0" transform="rotate(12 824.6 1373.1)"/>
<ellipse cx="735.5" cy="1378.6" rx="3.4" ry="1.7" fill="#6a5cb0" transform="rotate(-43 735.5 1378.6)"/>
<ellipse cx="728.2" cy="1369.2" rx="2.6" ry="2" fill="#9484c8" transform="rotate(115 728.2 1369.2)"/>
<ellipse cx="808.8" cy="1313.0" rx="2.6" ry="2" fill="#9484c8" transform="rotate(120 808.8 1313.0)"/>
<ellipse cx="678.9" cy="1381.0" rx="2.6" ry="2" fill="#9484c8" transform="rotate(69 678.9 1381.0)"/>
<ellipse cx="770.6" cy="1283.9" rx="2.6" ry="2" fill="#9484c8" transform="rotate(107 770.6 1283.9)"/>
<ellipse cx="684.9" cy="1422.5" rx="2.6" ry="2" fill="#9484c8" transform="rotate(95 684.9 1422.5)"/>
<ellipse cx="738.9" cy="1293.0" rx="2.6" ry="2" fill="#9484c8" transform="rotate(87 738.9 1293.0)"/>
<ellipse cx="713.7" cy="1317.1" rx="2.6" ry="2" fill="#9484c8" transform="rotate(129 713.7 1317.1)"/>
<ellipse cx="702.7" cy="1288.0" rx="2.6" ry="2" fill="#9484c8" transform="rotate(105 702.7 1288.0)"/>
<ellipse cx="864.4" cy="1315.6" rx="2.6" ry="2" fill="#9484c8" transform="rotate(70 864.4 1315.6)"/>
<ellipse cx="873.8" cy="1288.2" rx="2.6" ry="2" fill="#9484c8" transform="rotate(105 873.8 1288.2)"/>
<ellipse cx="726.1" cy="1410.0" rx="2.6" ry="2" fill="#9484c8" transform="rotate(163 726.1 1410.0)"/>
<ellipse cx="683.1" cy="1421.1" rx="2.6" ry="2" fill="#9484c8" transform="rotate(136 683.1 1421.1)"/>
<ellipse cx="680.0" cy="1381.0" rx="2.6" ry="2" fill="#9484c8" transform="rotate(130 680.0 1381.0)"/>
<ellipse cx="707.5" cy="1458.6" rx="2.6" ry="2" fill="#9484c8" transform="rotate(44 707.5 1458.6)"/>
</g></g>
<rect x="652.6" y="1291.2" width="215.7" height="167.6" fill="none" stroke="#000" stroke-width="5.4" stroke-linejoin="round"/>
<clipPath id="hc12"><rect x="869.2" y="1291.2" width="215.5" height="167.6"/></clipPath>
<rect x="869.2" y="1291.2" width="215.5" height="167.6" fill="#e0b0e1"/>
<g clip-path="url(#hc12)"><g filter="url(#hb)">
<path d="M872.3 1404.9L903.6 1388.2L935.5 1375.1L967.4 1363.5L990.7 1349.7L1013.9 1336.6L1029.9 1323.6L1041.5 1304.7L1048.7 1293.8M872.3 1345.3L896.3 1329.4L915.2 1313.4L947.1 1307.6L952.9 1293.8M881.8 1298.9L915.2 1311.2M915.2 1313.4L909.4 1323.6M947.1 1307.6L948.6 1333.7L932.6 1339.5L922.4 1359.9L894.8 1364.2L872.3 1367.1M948.6 1333.7L974.7 1345.3L980.5 1355.5M974.7 1323.6L990.7 1316.3L999.4 1306.1L1016.8 1293.8M974.7 1323.6L976.2 1343.9M1013.9 1336.6L1022.6 1355.5L1028.4 1365.7L1021.2 1390.3L1034.2 1410.7L1038.6 1425.2L1034.2 1442.6L1031.3 1455.7M1028.4 1365.7L1048.7 1362.8L1081.9 1349.7M1034.2 1320.7L1081.9 1316.3M1021.2 1390.3L995.0 1393.2L987.8 1416.5L941.3 1416.5L918.1 1431.0L913.7 1444.1L872.3 1445.5M987.8 1416.5L1005.2 1425.2L1031.3 1439.7M935.5 1375.1L934.0 1390.3L935.5 1415.0M1038.6 1410.7L1063.3 1391.8L1081.9 1381.6M1038.6 1425.2L1066.2 1426.6L1081.9 1425.2M922.4 1447.0L973.2 1449.9M872.3 1407.8L935.5 1416.5" fill="none" stroke="#f1dcf1" stroke-width="3" stroke-linecap="round" stroke-linejoin="round"/>
<path d="M872.3 1404.9L903.6 1388.2L935.5 1375.1L967.4 1363.5L990.7 1349.7L1013.9 1336.6L1029.9 1323.6L1041.5 1304.7L1048.7 1293.8" fill="none" stroke="#f6ecf7" stroke-width="5.7" stroke-linecap="round" stroke-linejoin="round"/>
<ellipse cx="880.3" cy="1326.5" rx="3" ry="2.5" fill="#8772c0" transform="rotate(18 880.3 1326.5)"/>
<ellipse cx="881.8" cy="1301.8" rx="3" ry="2.5" fill="#8772c0" transform="rotate(99 881.8 1301.8)"/>
<ellipse cx="912.3" cy="1296.7" rx="3" ry="2.5" fill="#8772c0" transform="rotate(32 912.3 1296.7)"/>
<ellipse cx="935.5" cy="1296.0" rx="3" ry="2.5" fill="#8772c0" transform="rotate(125 935.5 1296.0)"/>
<ellipse cx="932.6" cy="1322.1" rx="3" ry="2.5" fill="#8772c0" transform="rotate(7 932.6 1322.1)"/>
<ellipse cx="911.5" cy="1337.4" rx="3" ry="2.5" fill="#8772c0" transform="rotate(50 911.5 1337.4)"/>
<ellipse cx="950.0" cy="1352.6" rx="3" ry="2.5" fill="#8772c0" transform="rotate(62 950.0 1352.6)"/>
<ellipse cx="922.4" cy="1359.1" rx="3" ry="2.5" fill="#8772c0" transform="rotate(115 922.4 1359.1)"/>
<ellipse cx="925.3" cy="1359.1" rx="3" ry="2.5" fill="#8772c0" transform="rotate(9 925.3 1359.1)"/>
<ellipse cx="919.5" cy="1372.2" rx="3" ry="2.5" fill="#8772c0" transform="rotate(83 919.5 1372.2)"/>
<ellipse cx="968.2" cy="1380.9" rx="3" ry="2.5" fill="#8772c0" transform="rotate(38 968.2 1380.9)"/>
<ellipse cx="964.5" cy="1404.9" rx="3" ry="2.5" fill="#8772c0" transform="rotate(51 964.5 1404.9)"/>
<ellipse cx="1003.0" cy="1369.3" rx="3" ry="2.5" fill="#8772c0" transform="rotate(86 1003.0 1369.3)"/>
<ellipse cx="923.9" cy="1417.9" rx="3" ry="2.5" fill="#8772c0" transform="rotate(173 923.9 1417.9)"/>
<ellipse cx="943.5" cy="1428.8" rx="3" ry="2.5" fill="#8772c0" transform="rotate(87 943.5 1428.8)"/>
<ellipse cx="963.8" cy="1428.1" rx="3" ry="2.5" fill="#8772c0" transform="rotate(172 963.8 1428.1)"/>
<ellipse cx="962.4" cy="1441.2" rx="3" ry="2.5" fill="#8772c0" transform="rotate(30 962.4 1441.2)"/>
<ellipse cx="1021.9" cy="1423.0" rx="3" ry="2.5" fill="#8772c0" transform="rotate(166 1021.9 1423.0)"/>
<ellipse cx="1048.7" cy="1350.4" rx="3" ry="2.5" fill="#8772c0" transform="rotate(66 1048.7 1350.4)"/>
<ellipse cx="1037.1" cy="1379.5" rx="3" ry="2.5" fill="#8772c0" transform="rotate(34 1037.1 1379.5)"/>
<ellipse cx="1026.2" cy="1309.0" rx="3" ry="2.5" fill="#8772c0" transform="rotate(135 1026.2 1309.0)"/>
<ellipse cx="1055.3" cy="1308.3" rx="3" ry="2.5" fill="#8772c0" transform="rotate(164 1055.3 1308.3)"/>
<ellipse cx="1045.8" cy="1317.0" rx="3" ry="2.5" fill="#8772c0" transform="rotate(1 1045.8 1317.0)"/>
<ellipse cx="993.6" cy="1338.8" rx="3" ry="2.5" fill="#8772c0" transform="rotate(48 993.6 1338.8)"/>
<ellipse cx="989.2" cy="1314.1" rx="3" ry="2.5" fill="#8772c0" transform="rotate(139 989.2 1314.1)"/>
<ellipse cx="1012.5" cy="1328.6" rx="3" ry="2.5" fill="#8772c0" transform="rotate(62 1012.5 1328.6)"/>
<ellipse cx="971.8" cy="1343.2" rx="3" ry="2.5" fill="#8772c0" transform="rotate(43 971.8 1343.2)"/>
<ellipse cx="996.5" cy="1390.3" rx="3" ry="2.5" fill="#8772c0" transform="rotate(2 996.5 1390.3)"/>
<ellipse cx="947.1" cy="1334.4" rx="3" ry="2.5" fill="#8772c0" transform="rotate(7 947.1 1334.4)"/>
<ellipse cx="1028.4" cy="1364.9" rx="3" ry="2.5" fill="#8772c0" transform="rotate(111 1028.4 1364.9)"/>
<ellipse cx="883.2" cy="1402.0" rx="3" ry="2.5" fill="#8772c0" transform="rotate(177 883.2 1402.0)"/>
<ellipse cx="874.5" cy="1346.8" rx="3" ry="2.5" fill="#8772c0" transform="rotate(180 874.5 1346.8)"/>
<ellipse cx="876.0" cy="1359.1" rx="3" ry="2.5" fill="#8772c0" transform="rotate(91 876.0 1359.1)"/>
<ellipse cx="878.9" cy="1452.1" rx="3" ry="2.5" fill="#8772c0" transform="rotate(4 878.9 1452.1)"/>
<ellipse cx="899.2" cy="1451.3" rx="3" ry="2.5" fill="#8772c0" transform="rotate(58 899.2 1451.3)"/>
<ellipse cx="1079.2" cy="1364.9" rx="3" ry="2.5" fill="#8772c0" transform="rotate(142 1079.2 1364.9)"/>
<ellipse cx="1066.2" cy="1423.7" rx="3" ry="2.5" fill="#8772c0" transform="rotate(150 1066.2 1423.7)"/>
<ellipse cx="1040.0" cy="1438.3" rx="3" ry="2.5" fill="#8772c0" transform="rotate(115 1040.0 1438.3)"/>
</g></g>
<rect x="869.2" y="1291.2" width="215.5" height="167.6" fill="none" stroke="#000" stroke-width="5.4" stroke-linejoin="round"/>
<line x1="758.8" y1="1449.3" x2="857.8" y2="1449.3" stroke="#000" stroke-width="5.5" stroke-linecap="butt"/>
<line x1="975.6" y1="1449.3" x2="1074.7" y2="1449.3" stroke="#000" stroke-width="5.5" stroke-linecap="butt"/>
<text x="958.97" y="1498.8" font-size="35.54" text-anchor="start" stroke-width="0.96">100 µm</text>
<text x="860.61" y="1533.2" font-size="21.19" text-anchor="start" stroke-width="0.57">P=0.006</text>
<path d="M843.9 1572.5 V1557.2 H966.5 V1572.5" fill="none" stroke="#000" stroke-width="2.6" stroke-linecap="round" stroke-linejoin="miter"/>
<rect x="800.7" y="1657.3" width="81.3" height="207.9" fill="#bfbfbf"/>
<path d="M800.7 1865.2 V1657.3 H882 V1865.2" fill="none" stroke="#000" stroke-width="4.4" stroke-linejoin="miter"/>
<rect x="929.8" y="1604.8" width="81" height="260.4" fill="#46289a"/>
<path d="M929.8 1865.2 V1604.8 H1010.8 V1865.2" fill="none" stroke="#000" stroke-width="4.4" stroke-linejoin="miter"/>
<line x1="841.4" y1="1642.6" x2="841.4" y2="1657" stroke="#000" stroke-width="1.7" stroke-linecap="butt"/>
<line x1="819.6" y1="1642.6" x2="863.2" y2="1642.6" stroke="#000" stroke-width="1.7" stroke-linecap="butt"/>
<line x1="970.3" y1="1596.2" x2="970.3" y2="1605" stroke="#000" stroke-width="1.7" stroke-linecap="butt"/>
<line x1="948.5" y1="1596.2" x2="992.1" y2="1596.2" stroke="#000" stroke-width="1.7" stroke-linecap="butt"/>
<line x1="755.3" y1="1561.05" x2="755.3" y2="1866.75" stroke="#000" stroke-width="3.1" stroke-linecap="butt"/>
<line x1="742.7" y1="1865.2" x2="755.3" y2="1865.2" stroke="#000" stroke-width="3.1" stroke-linecap="butt"/>
<line x1="742.7" y1="1789.55" x2="755.3" y2="1789.55" stroke="#000" stroke-width="3.1" stroke-linecap="butt"/>
<line x1="742.7" y1="1713.9" x2="755.3" y2="1713.9" stroke="#000" stroke-width="3.1" stroke-linecap="butt"/>
<line x1="742.7" y1="1638.25" x2="755.3" y2="1638.25" stroke="#000" stroke-width="3.1" stroke-linecap="butt"/>
<line x1="742.7" y1="1562.6" x2="755.3" y2="1562.6" stroke="#000" stroke-width="3.1" stroke-linecap="butt"/>
<line x1="742.6" y1="1865.2" x2="1056.3" y2="1865.2" stroke="#000" stroke-width="3" stroke-linecap="butt"/>
<text transform="translate(737.3 1874.01) scale(1 1.13)" font-size="22.7" text-anchor="end" stroke-width="0.86">0</text>
<text transform="translate(737.3 1798.36) scale(1 1.13)" font-size="22.7" text-anchor="end" stroke-width="0.86">400</text>
<text transform="translate(737.3 1722.71) scale(1 1.13)" font-size="22.7" text-anchor="end" stroke-width="0.86">800</text>
<text transform="translate(737.3 1647.06) scale(1 1.13)" font-size="22.7" text-anchor="end" stroke-width="0.86">1200</text>
<text transform="translate(737.3 1571.41) scale(1 1.13)" font-size="22.7" text-anchor="end" stroke-width="0.86">1600</text>
<circle cx="841.2" cy="1609.4" r="6"/>
<circle cx="841.2" cy="1647.3" r="6"/>
<circle cx="829" cy="1665.6" r="6"/>
<circle cx="852.7" cy="1669" r="6"/>
<circle cx="841.2" cy="1685" r="6"/>
<circle cx="958.1" cy="1586" r="6"/>
<circle cx="981.8" cy="1591.1" r="6"/>
<circle cx="958.1" cy="1601.3" r="6"/>
<circle cx="958.1" cy="1616.5" r="6"/>
<circle cx="981.8" cy="1615.8" r="6"/>
<text x="754.06" y="1923.3" font-size="35.65" text-anchor="start" stroke-width="0.96">Control</text>
<text x="916.77" y="1923.3" font-size="35.44" text-anchor="start" stroke-width="0.96">Myonectin</text>
<text transform="translate(672.5 1943.03) rotate(-90)" font-size="35" text-anchor="start" stroke-width="1.1">Cross sectional area (µm<tspan font-size="23.8" dy="-10.85">2</tspan><tspan dy="10.85">)</tspan></text>
<rect x="1214.45" y="1440.15" width="75" height="29.9" fill="#c8c8c8" stroke="#000" stroke-width="5.1"/>
<rect x="1214.45" y="1478.15" width="75" height="30.2" fill="#40289a" stroke="#000" stroke-width="5.1"/>
<text x="1315.46" y="1470.1" font-size="35.62" text-anchor="start" stroke-width="0.96">Control</text>
<text x="1314.57" y="1508.6" font-size="35.47" text-anchor="start" stroke-width="0.96">Myonectin</text>
<rect x="1273.5" y="1807.58" width="15.4" height="31.62" fill="#bfbfbf"/>
<path d="M1273.5 1839.2 V1807.58 H1288.9 V1839.2" fill="none" stroke="#000" stroke-width="2" stroke-linejoin="miter"/>
<line x1="1281.2" y1="1794.99" x2="1281.2" y2="1807.58" stroke="#000" stroke-width="1.4" stroke-linecap="butt"/>
<line x1="1275.7" y1="1794.99" x2="1286.7" y2="1794.99" stroke="#000" stroke-width="1.4" stroke-linecap="butt"/>
<rect x="1301.8" y="1816.07" width="15.4" height="23.13" fill="#46289a"/>
<path d="M1301.8 1839.2 V1816.07 H1317.2 V1839.2" fill="none" stroke="#000" stroke-width="2" stroke-linejoin="miter"/>
<line x1="1309.5" y1="1809.92" x2="1309.5" y2="1816.07" stroke="#000" stroke-width="1.4" stroke-linecap="butt"/>
<line x1="1304" y1="1809.92" x2="1315" y2="1809.92" stroke="#000" stroke-width="1.4" stroke-linecap="butt"/>
<rect x="1347.7" y="1744.63" width="15.4" height="94.57" fill="#bfbfbf"/>
<path d="M1347.7 1839.2 V1744.63 H1363.1 V1839.2" fill="none" stroke="#000" stroke-width="2" stroke-linejoin="miter"/>
<line x1="1355.4" y1="1728.52" x2="1355.4" y2="1744.63" stroke="#000" stroke-width="1.4" stroke-linecap="butt"/>
<line x1="1349.9" y1="1728.52" x2="1360.9" y2="1728.52" stroke="#000" stroke-width="1.4" stroke-linecap="butt"/>
<rect x="1376" y="1767.17" width="15.4" height="72.03" fill="#46289a"/>
<path d="M1376 1839.2 V1767.17 H1391.4 V1839.2" fill="none" stroke="#000" stroke-width="2" stroke-linejoin="miter"/>
<line x1="1383.7" y1="1759.27" x2="1383.7" y2="1767.17" stroke="#000" stroke-width="1.4" stroke-linecap="butt"/>
<line x1="1378.2" y1="1759.27" x2="1389.2" y2="1759.27" stroke="#000" stroke-width="1.4" stroke-linecap="butt"/>
<rect x="1421.9" y="1773.61" width="15.4" height="65.59" fill="#bfbfbf"/>
<path d="M1421.9 1839.2 V1773.61 H1437.3 V1839.2" fill="none" stroke="#000" stroke-width="2" stroke-linejoin="miter"/>
<line x1="1429.6" y1="1756.92" x2="1429.6" y2="1773.61" stroke="#000" stroke-width="1.4" stroke-linecap="butt"/>
<line x1="1424.1" y1="1756.92" x2="1435.1" y2="1756.92" stroke="#000" stroke-width="1.4" stroke-linecap="butt"/>
<rect x="1450.2" y="1789.13" width="15.4" height="50.07" fill="#46289a"/>
<path d="M1450.2 1839.2 V1789.13 H1465.6 V1839.2" fill="none" stroke="#000" stroke-width="2" stroke-linejoin="miter"/>
<line x1="1457.9" y1="1784.45" x2="1457.9" y2="1789.13" stroke="#000" stroke-width="1.4" stroke-linecap="butt"/>
<line x1="1452.4" y1="1784.45" x2="1463.4" y2="1784.45" stroke="#000" stroke-width="1.4" stroke-linecap="butt"/>
<rect x="1496.1" y="1798.5" width="15.4" height="40.7" fill="#bfbfbf"/>
<path d="M1496.1 1839.2 V1798.5 H1511.5 V1839.2" fill="none" stroke="#000" stroke-width="2" stroke-linejoin="miter"/>
<line x1="1503.8" y1="1787.96" x2="1503.8" y2="1798.5" stroke="#000" stroke-width="1.4" stroke-linecap="butt"/>
<line x1="1498.3" y1="1787.96" x2="1509.3" y2="1787.96" stroke="#000" stroke-width="1.4" stroke-linecap="butt"/>
<rect x="1524.4" y="1791.18" width="15.4" height="48.02" fill="#46289a"/>
<path d="M1524.4 1839.2 V1791.18 H1539.8 V1839.2" fill="none" stroke="#000" stroke-width="2" stroke-linejoin="miter"/>
<line x1="1532.1" y1="1783.57" x2="1532.1" y2="1791.18" stroke="#000" stroke-width="1.4" stroke-linecap="butt"/>
<line x1="1526.6" y1="1783.57" x2="1537.6" y2="1783.57" stroke="#000" stroke-width="1.4" stroke-linecap="butt"/>
<rect x="1570.3" y="1811.97" width="15.4" height="27.23" fill="#bfbfbf"/>
<path d="M1570.3 1839.2 V1811.97 H1585.7 V1839.2" fill="none" stroke="#000" stroke-width="2" stroke-linejoin="miter"/>
<line x1="1578" y1="1804.36" x2="1578" y2="1811.97" stroke="#000" stroke-width="1.4" stroke-linecap="butt"/>
<line x1="1572.5" y1="1804.36" x2="1583.5" y2="1804.36" stroke="#000" stroke-width="1.4" stroke-linecap="butt"/>
<rect x="1598.6" y="1804.36" width="15.4" height="34.84" fill="#46289a"/>
<path d="M1598.6 1839.2 V1804.36 H1614 V1839.2" fill="none" stroke="#000" stroke-width="2" stroke-linejoin="miter"/>
<line x1="1606.3" y1="1800.26" x2="1606.3" y2="1804.36" stroke="#000" stroke-width="1.4" stroke-linecap="butt"/>
<line x1="1600.8" y1="1800.26" x2="1611.8" y2="1800.26" stroke="#000" stroke-width="1.4" stroke-linecap="butt"/>
<rect x="1644.5" y="1826.61" width="15.4" height="12.59" fill="#bfbfbf"/>
<path d="M1644.5 1839.2 V1826.61 H1659.9 V1839.2" fill="none" stroke="#000" stroke-width="2" stroke-linejoin="miter"/>
<line x1="1652.2" y1="1823.39" x2="1652.2" y2="1826.61" stroke="#000" stroke-width="1.4" stroke-linecap="butt"/>
<line x1="1646.7" y1="1823.39" x2="1657.7" y2="1823.39" stroke="#000" stroke-width="1.4" stroke-linecap="butt"/>
<rect x="1672.8" y="1816.95" width="15.4" height="22.25" fill="#46289a"/>
<path d="M1672.8 1839.2 V1816.95 H1688.2 V1839.2" fill="none" stroke="#000" stroke-width="2" stroke-linejoin="miter"/>
<line x1="1680.5" y1="1810.8" x2="1680.5" y2="1816.95" stroke="#000" stroke-width="1.4" stroke-linecap="butt"/>
<line x1="1675" y1="1810.8" x2="1686" y2="1810.8" stroke="#000" stroke-width="1.4" stroke-linecap="butt"/>
<rect x="1718.7" y="1834.22" width="15.4" height="4.98" fill="#bfbfbf"/>
<path d="M1718.7 1839.2 V1834.22 H1734.1 V1839.2" fill="none" stroke="#000" stroke-width="2" stroke-linejoin="miter"/>
<line x1="1726.4" y1="1832.17" x2="1726.4" y2="1834.22" stroke="#000" stroke-width="1.4" stroke-linecap="butt"/>
<line x1="1720.9" y1="1832.17" x2="1731.9" y2="1832.17" stroke="#000" stroke-width="1.4" stroke-linecap="butt"/>
<rect x="1747" y="1827.49" width="15.4" height="11.71" fill="#46289a"/>
<path d="M1747 1839.2 V1827.49 H1762.4 V1839.2" fill="none" stroke="#000" stroke-width="2" stroke-linejoin="miter"/>
<line x1="1754.7" y1="1823.68" x2="1754.7" y2="1827.49" stroke="#000" stroke-width="1.4" stroke-linecap="butt"/>
<line x1="1749.2" y1="1823.68" x2="1760.2" y2="1823.68" stroke="#000" stroke-width="1.4" stroke-linecap="butt"/>
<rect x="1792.9" y="1828.66" width="15.4" height="10.54" fill="#bfbfbf"/>
<path d="M1792.9 1839.2 V1828.66 H1808.3 V1839.2" fill="none" stroke="#000" stroke-width="2" stroke-linejoin="miter"/>
<line x1="1800.6" y1="1824.85" x2="1800.6" y2="1828.66" stroke="#000" stroke-width="1.4" stroke-linecap="butt"/>
<line x1="1795.1" y1="1824.85" x2="1806.1" y2="1824.85" stroke="#000" stroke-width="1.4" stroke-linecap="butt"/>
<rect x="1821.2" y="1812.56" width="15.4" height="26.64" fill="#46289a"/>
<path d="M1821.2 1839.2 V1812.56 H1836.6 V1839.2" fill="none" stroke="#000" stroke-width="2" stroke-linejoin="miter"/>
<line x1="1828.9" y1="1807.58" x2="1828.9" y2="1812.56" stroke="#000" stroke-width="1.4" stroke-linecap="butt"/>
<line x1="1823.4" y1="1807.58" x2="1834.4" y2="1807.58" stroke="#000" stroke-width="1.4" stroke-linecap="butt"/>
<line x1="1262.5" y1="1603.36" x2="1262.5" y2="1841.1" stroke="#000" stroke-width="3.8" stroke-linecap="butt"/>
<line x1="1250.5" y1="1839.2" x2="1262.5" y2="1839.2" stroke="#000" stroke-width="3.2" stroke-linecap="butt"/>
<line x1="1250.5" y1="1780.64" x2="1262.5" y2="1780.64" stroke="#000" stroke-width="3.2" stroke-linecap="butt"/>
<line x1="1250.5" y1="1722.08" x2="1262.5" y2="1722.08" stroke="#000" stroke-width="3.2" stroke-linecap="butt"/>
<line x1="1250.5" y1="1663.52" x2="1262.5" y2="1663.52" stroke="#000" stroke-width="3.2" stroke-linecap="butt"/>
<line x1="1250.5" y1="1604.96" x2="1262.5" y2="1604.96" stroke="#000" stroke-width="3.2" stroke-linecap="butt"/>
<line x1="1250.5" y1="1839.2" x2="1847.2" y2="1839.2" stroke="#000" stroke-width="3.8" stroke-linecap="butt"/>
<line x1="1295.2" y1="1839.2" x2="1295.2" y2="1851.7" stroke="#000" stroke-width="3.4" stroke-linecap="butt"/>
<line x1="1369.4" y1="1839.2" x2="1369.4" y2="1851.7" stroke="#000" stroke-width="3.4" stroke-linecap="butt"/>
<line x1="1443.6" y1="1839.2" x2="1443.6" y2="1851.7" stroke="#000" stroke-width="3.4" stroke-linecap="butt"/>
<line x1="1517.8" y1="1839.2" x2="1517.8" y2="1851.7" stroke="#000" stroke-width="3.4" stroke-linecap="butt"/>
<line x1="1592" y1="1839.2" x2="1592" y2="1851.7" stroke="#000" stroke-width="3.4" stroke-linecap="butt"/>
<line x1="1666.2" y1="1839.2" x2="1666.2" y2="1851.7" stroke="#000" stroke-width="3.4" stroke-linecap="butt"/>
<line x1="1740.4" y1="1839.2" x2="1740.4" y2="1851.7" stroke="#000" stroke-width="3.4" stroke-linecap="butt"/>
<line x1="1814.6" y1="1839.2" x2="1814.6" y2="1851.7" stroke="#000" stroke-width="3.4" stroke-linecap="butt"/>
<text x="1247.5" y="1845.32" font-size="17" text-anchor="end" stroke-width="0.46">0</text>
<text x="1247.5" y="1786.76" font-size="17" text-anchor="end" stroke-width="0.46">20</text>
<text x="1247.5" y="1728.2" font-size="17" text-anchor="end" stroke-width="0.46">40</text>
<text x="1247.5" y="1669.64" font-size="17" text-anchor="end" stroke-width="0.46">60</text>
<text x="1247.5" y="1611.08" font-size="17" text-anchor="end" stroke-width="0.46">80</text>
<circle cx="1275.21" cy="1785.44" r="3.3"/>
<circle cx="1286.98" cy="1785.44" r="3.3"/>
<circle cx="1281.09" cy="1797.2" r="3.3"/>
<circle cx="1275.21" cy="1834.76" r="3.3"/>
<circle cx="1286.98" cy="1834.76" r="3.3"/>
<circle cx="1303.27" cy="1800.37" r="3.3"/>
<circle cx="1314.58" cy="1805.8" r="3.3"/>
<circle cx="1309.15" cy="1815.3" r="3.3"/>
<circle cx="1309.15" cy="1826.62" r="3.3"/>
<circle cx="1309.15" cy="1834.76" r="3.3"/>
<circle cx="1349.42" cy="1714.85" r="3.3"/>
<circle cx="1361.19" cy="1718.47" r="3.3"/>
<circle cx="1355.3" cy="1727.07" r="3.3"/>
<circle cx="1355.3" cy="1766.89" r="3.3"/>
<circle cx="1355.3" cy="1792.68" r="3.3"/>
<circle cx="1382.91" cy="1741.09" r="3.3"/>
<circle cx="1388.79" cy="1761" r="3.3"/>
<circle cx="1377.48" cy="1766.89" r="3.3"/>
<circle cx="1377.48" cy="1781.37" r="3.3"/>
<circle cx="1388.79" cy="1778.2" r="3.3"/>
<circle cx="1429.52" cy="1708.97" r="3.3"/>
<circle cx="1423.63" cy="1779.1" r="3.3"/>
<circle cx="1435.4" cy="1785.89" r="3.3"/>
<circle cx="1423.63" cy="1798.56" r="3.3"/>
<circle cx="1435.4" cy="1798.56" r="3.3"/>
<circle cx="1451.69" cy="1775.94" r="3.3"/>
<circle cx="1463.45" cy="1782.27" r="3.3"/>
<circle cx="1457.57" cy="1789.51" r="3.3"/>
<circle cx="1457.57" cy="1805.35" r="3.3"/>
<circle cx="1451.69" cy="1788.15" r="3.3"/>
<circle cx="1503.73" cy="1770.05" r="3.3"/>
<circle cx="1503.73" cy="1776.84" r="3.3"/>
<circle cx="1497.85" cy="1809.87" r="3.3"/>
<circle cx="1509.61" cy="1814.4" r="3.3"/>
<circle cx="1497.85" cy="1817.57" r="3.3"/>
<circle cx="1531.33" cy="1767.79" r="3.3"/>
<circle cx="1531.33" cy="1779.1" r="3.3"/>
<circle cx="1531.33" cy="1792.68" r="3.3"/>
<circle cx="1531.33" cy="1803.99" r="3.3"/>
<circle cx="1531.33" cy="1812.14" r="3.3"/>
<circle cx="1577.94" cy="1785.44" r="3.3"/>
<circle cx="1577.94" cy="1810.78" r="3.3"/>
<circle cx="1572.51" cy="1816.21" r="3.3"/>
<circle cx="1583.82" cy="1816.21" r="3.3"/>
<circle cx="1572.51" cy="1823" r="3.3"/>
<circle cx="1605.54" cy="1792.68" r="3.3"/>
<circle cx="1611.42" cy="1799.47" r="3.3"/>
<circle cx="1599.66" cy="1803.99" r="3.3"/>
<circle cx="1611.42" cy="1809.87" r="3.3"/>
<circle cx="1605.54" cy="1815.3" r="3.3"/>
<circle cx="1652.6" cy="1816.21" r="3.3"/>
<circle cx="1647.17" cy="1824.35" r="3.3"/>
<circle cx="1658.49" cy="1826.62" r="3.3"/>
<circle cx="1647.17" cy="1831.14" r="3.3"/>
<circle cx="1679.75" cy="1801.73" r="3.3"/>
<circle cx="1685.64" cy="1808.52" r="3.3"/>
<circle cx="1674.32" cy="1813.95" r="3.3"/>
<circle cx="1685.64" cy="1826.62" r="3.3"/>
<circle cx="1674.32" cy="1827.98" r="3.3"/>
<circle cx="1720.93" cy="1828.88" r="3.3"/>
<circle cx="1726.36" cy="1832.5" r="3.3"/>
<circle cx="1732.24" cy="1834.31" r="3.3"/>
<circle cx="1720.93" cy="1837.93" r="3.3"/>
<circle cx="1748.54" cy="1816.21" r="3.3"/>
<circle cx="1759.85" cy="1821.19" r="3.3"/>
<circle cx="1754.42" cy="1828.88" r="3.3"/>
<circle cx="1759.85" cy="1833.41" r="3.3"/>
<circle cx="1748.54" cy="1839.29" r="3.3"/>
<circle cx="1795.14" cy="1822.09" r="3.3"/>
<circle cx="1806.46" cy="1822.09" r="3.3"/>
<circle cx="1801.03" cy="1828.88" r="3.3"/>
<circle cx="1806.46" cy="1833.41" r="3.3"/>
<circle cx="1797.41" cy="1838.84" r="3.3"/>
<circle cx="1822.75" cy="1799.47" r="3.3"/>
<circle cx="1828.63" cy="1801.73" r="3.3"/>
<circle cx="1822.75" cy="1815.3" r="3.3"/>
<circle cx="1834.06" cy="1815.3" r="3.3"/>
<circle cx="1828.63" cy="1819.83" r="3.3"/>
<text transform="translate(1299.7 1865) rotate(-45)" font-size="18" text-anchor="end" stroke-width="0.64">0-400</text>
<text transform="translate(1373.9 1865) rotate(-45)" font-size="18" text-anchor="end" stroke-width="0.64">400-800</text>
<text transform="translate(1448.1 1865) rotate(-45)" font-size="18" text-anchor="end" stroke-width="0.64">800-1200</text>
<text transform="translate(1522.3 1865) rotate(-45)" font-size="18" text-anchor="end" stroke-width="0.64">1200-1600</text>
<text transform="translate(1596.5 1865) rotate(-45)" font-size="18" text-anchor="end" stroke-width="0.64">1600-2000</text>
<text transform="translate(1670.7 1865) rotate(-45)" font-size="18" text-anchor="end" stroke-width="0.64">2000-2400</text>
<text transform="translate(1744.9 1865) rotate(-45)" font-size="18" text-anchor="end" stroke-width="0.64">2400-2800</text>
<text transform="translate(1819.1 1865) rotate(-45)" font-size="18" text-anchor="end" stroke-width="0.64">2800-</text>
<text x="1363.54" y="1948.5" font-size="25.03" text-anchor="start" stroke-width="0.68">Cross-sectional area (µm<tspan font-size="17.02" dy="-7.76">2</tspan><tspan dy="7.76">)</tspan></text>
<text transform="translate(1166 1839.21) rotate(-90)" font-size="35.12" text-anchor="start" stroke-width="1.1">Frequency</text>
<text transform="translate(1208.5 1879.74) rotate(-90)" font-size="35.3" text-anchor="start" stroke-width="1.1">distribution (%)</text>
<clipPath id="bc4"><rect x="201.4" y="2145.2" width="247.4" height="71.4"/></clipPath>
<rect x="201.4" y="2145.2" width="247.4" height="71.4" fill="#f7f7f7"/>
<g clip-path="url(#bc4)">
<rect x="222" y="2126" width="83" height="110" rx="9" fill="#e1e1e1" filter="url(#bl5)"/>
<rect x="339" y="2126" width="90" height="110" rx="9" fill="#c5c5c5" filter="url(#bl5)"/>
<rect x="224" y="2177.5" width="79" height="12" rx="6" fill="#cccccc" filter="url(#bl5)"/>
<rect x="224" y="2205" width="79" height="12" rx="6" fill="#d2d2d2" filter="url(#bl5)"/>
<rect x="341" y="2177" width="86" height="14" rx="7" fill="#a2a2a2" filter="url(#bl5)"/>
<rect x="341" y="2204.5" width="86" height="13" rx="6.5" fill="#adadad" filter="url(#bl5)"/>
</g>
<rect x="201.4" y="2145.2" width="247.4" height="71.4" fill="none" stroke="#000" stroke-width="5.2" stroke-linejoin="round"/>
<clipPath id="bc5"><rect x="203.6" y="2236.7" width="247.7" height="89.1"/></clipPath>
<rect x="203.6" y="2236.7" width="247.7" height="89.1" fill="#fafafa"/>
<g clip-path="url(#bc5)">
<rect x="231" y="2260" width="75" height="60" rx="9" fill="#efefef" filter="url(#bl5)"/>
<rect x="341" y="2252" width="87" height="80" rx="9" fill="#e3e3e3" filter="url(#bl5)"/>
<rect x="228" y="2238" width="80" height="8" rx="4" fill="#d8d8d8" filter="url(#bl5)"/>
<rect x="231" y="2262" width="75" height="14" rx="7" fill="#bcbcbc" filter="url(#bl5)"/>
<rect x="348" y="2237.5" width="30" height="9" rx="4.5" fill="#b4b4b4" filter="url(#bl5)"/>
<rect x="343" y="2258" width="83" height="16" rx="8" fill="#9c9c9c" filter="url(#bl5)"/>
<rect x="398" y="2268" width="24" height="28" rx="9" fill="#a2a2a2" filter="url(#bl5)"/>
</g>
<rect x="203.6" y="2236.7" width="247.7" height="89.1" fill="none" stroke="#000" stroke-width="5.2" stroke-linejoin="round"/>
<clipPath id="bc6"><rect x="203.6" y="2342.6" width="247.7" height="98.1"/></clipPath>
<rect x="203.6" y="2342.6" width="247.7" height="98.1" fill="#b0b0b0"/>
<g clip-path="url(#bc6)">
<rect x="222" y="2322" width="94" height="140" rx="9" fill="#585858" filter="url(#bl5)"/>
<rect x="341" y="2322" width="91" height="140" rx="9" fill="#4d4d4d" filter="url(#bl5)"/>
<rect x="226" y="2346" width="88" height="15" rx="7.5" fill="#363636" filter="url(#bl5)"/>
<rect x="343" y="2345" width="87" height="17" rx="8.5" fill="#2a2a2a" filter="url(#bl5)"/>
<rect x="226" y="2408" width="88" height="34" rx="9" fill="#454545" filter="url(#bl5)"/>
<rect x="343" y="2408" width="87" height="34" rx="9" fill="#3d3d3d" filter="url(#bl5)"/>
<rect x="222" y="2385.5" width="94" height="14" rx="7" fill="#000000" filter="url(#bl3)"/>
<rect x="340" y="2386.5" width="94" height="19" rx="9" fill="#000000" filter="url(#bl3)"/>
</g>
<rect x="203.6" y="2342.6" width="247.7" height="98.1" fill="none" stroke="#000" stroke-width="5.2" stroke-linejoin="round"/>
<text x="69.72" y="2191.6" font-size="34.63" text-anchor="start" stroke-width="0.93">PGC1α</text>
<text x="48.49" y="2292.4" font-size="35.1" text-anchor="start" stroke-width="0.95">PGC1α4</text>
<text x="69.92" y="2402.7" font-size="35.2" text-anchor="start" stroke-width="0.95">tubulin</text>
<line x1="453.2" y1="2167" x2="513.7" y2="2167" stroke="#000" stroke-width="10.4" stroke-linecap="butt"/>
<line x1="453.8" y1="2263.5" x2="513.7" y2="2263.5" stroke="#000" stroke-width="10.4" stroke-linecap="butt"/>
<line x1="453.8" y1="2389.3" x2="513.7" y2="2389.3" stroke="#000" stroke-width="10.4" stroke-linecap="butt"/>
<text x="519.06" y="2175.1" font-size="24.06" text-anchor="start" stroke-width="0.65">100kDa</text>
<text x="520.03" y="2271.5" font-size="23.75" text-anchor="start" stroke-width="0.64">37kDa</text>
<text x="519.91" y="2397.5" font-size="23.79" text-anchor="start" stroke-width="0.64">50kDa</text>
<text x="184.55" y="2490.4" font-size="35.68" text-anchor="start" stroke-width="0.96">Control</text>
<text x="325.07" y="2490.4" font-size="35.51" text-anchor="start" stroke-width="0.96">Myonectin</text>
<text x="841.31" y="2124.4" font-size="21.19" text-anchor="start" stroke-width="0.57">P=0.009</text>
<path d="M831 2159.3 V2144 H945.9 V2159.3" fill="none" stroke="#000" stroke-width="2.6" stroke-linecap="round" stroke-linejoin="miter"/>
<rect x="787.5" y="2345.1" width="76.6" height="91.6" fill="#bfbfbf"/>
<path d="M787.5 2436.7 V2345.1 H864.1 V2436.7" fill="none" stroke="#000" stroke-width="4.4" stroke-linejoin="miter"/>
<rect x="909.5" y="2234.3" width="75.8" height="202.4" fill="#46289a"/>
<path d="M909.5 2436.7 V2234.3 H985.3 V2436.7" fill="none" stroke="#000" stroke-width="4.4" stroke-linejoin="miter"/>
<line x1="825.8" y1="2323.6" x2="825.8" y2="2345" stroke="#000" stroke-width="1.7" stroke-linecap="butt"/>
<line x1="805.2" y1="2323.6" x2="846.4" y2="2323.6" stroke="#000" stroke-width="1.7" stroke-linecap="butt"/>
<line x1="947.4" y1="2206.3" x2="947.4" y2="2234" stroke="#000" stroke-width="1.7" stroke-linecap="butt"/>
<line x1="926.8" y1="2206.3" x2="968" y2="2206.3" stroke="#000" stroke-width="1.7" stroke-linecap="butt"/>
<line x1="745.3" y1="2151.1" x2="745.3" y2="2438.2" stroke="#000" stroke-width="3" stroke-linecap="butt"/>
<line x1="732.8" y1="2436.7" x2="745.3" y2="2436.7" stroke="#000" stroke-width="3" stroke-linecap="butt"/>
<line x1="732.8" y1="2342" x2="745.3" y2="2342" stroke="#000" stroke-width="3" stroke-linecap="butt"/>
<line x1="732.8" y1="2247.3" x2="745.3" y2="2247.3" stroke="#000" stroke-width="3" stroke-linecap="butt"/>
<line x1="732.8" y1="2152.6" x2="745.3" y2="2152.6" stroke="#000" stroke-width="3" stroke-linecap="butt"/>
<line x1="732.8" y1="2436.7" x2="1028.2" y2="2436.7" stroke="#000" stroke-width="3" stroke-linecap="butt"/>
<text transform="translate(728 2445.28) scale(1 1.1)" font-size="22" text-anchor="end" stroke-width="0.84">0</text>
<text transform="translate(728 2350.58) scale(1 1.1)" font-size="22" text-anchor="end" stroke-width="0.84">1</text>
<text transform="translate(728 2255.88) scale(1 1.1)" font-size="22" text-anchor="end" stroke-width="0.84">2</text>
<text transform="translate(728 2161.18) scale(1 1.1)" font-size="22" text-anchor="end" stroke-width="0.84">3</text>
<circle cx="814.1" cy="2297.8" r="6.2"/>
<circle cx="836.8" cy="2306.6" r="6.2"/>
<circle cx="825.6" cy="2340.5" r="6.2"/>
<circle cx="825.6" cy="2370" r="6.2"/>
<circle cx="825.6" cy="2398.8" r="6.2"/>
<circle cx="946.9" cy="2169.4" r="6.2"/>
<circle cx="946.9" cy="2191.4" r="6.2"/>
<circle cx="946.9" cy="2218.5" r="6.2"/>
<circle cx="946.9" cy="2266.6" r="6.2"/>
<circle cx="946.9" cy="2313.4" r="6.2"/>
<text x="752.67" y="2490.2" font-size="35.28" text-anchor="start" stroke-width="0.95">Control</text>
<text x="893.07" y="2490.2" font-size="35.44" text-anchor="start" stroke-width="0.96">Myonectin</text>
<text transform="translate(677 2448.51) rotate(-90)" font-size="35.12" text-anchor="start" stroke-width="1.1">PGC1α protein levels</text>
<text x="1276.91" y="2132.8" font-size="21.16" text-anchor="start" stroke-width="0.57">P=0.038</text>
<path d="M1268.4 2169.1 V2155.9 H1375.1 V2169.1" fill="none" stroke="#000" stroke-width="2.6" stroke-linecap="round" stroke-linejoin="miter"/>
<rect x="1234.3" y="2321.3" width="69.1" height="115.1" fill="#bfbfbf"/>
<path d="M1234.3 2436.4 V2321.3 H1303.4 V2436.4" fill="none" stroke="#000" stroke-width="4.4" stroke-linejoin="miter"/>
<rect x="1345.4" y="2231.6" width="69.1" height="204.8" fill="#46289a"/>
<path d="M1345.4 2436.4 V2231.6 H1414.5 V2436.4" fill="none" stroke="#000" stroke-width="4.4" stroke-linejoin="miter"/>
<line x1="1268.9" y1="2286.3" x2="1268.9" y2="2321" stroke="#000" stroke-width="1.7" stroke-linecap="butt"/>
<line x1="1250.3" y1="2286.3" x2="1287.5" y2="2286.3" stroke="#000" stroke-width="1.7" stroke-linecap="butt"/>
<line x1="1380" y1="2214.5" x2="1380" y2="2231" stroke="#000" stroke-width="1.7" stroke-linecap="butt"/>
<line x1="1361.4" y1="2214.5" x2="1398.6" y2="2214.5" stroke="#000" stroke-width="1.7" stroke-linecap="butt"/>
<line x1="1194.9" y1="2177.9" x2="1194.9" y2="2437.9" stroke="#000" stroke-width="3" stroke-linecap="butt"/>
<line x1="1183.4" y1="2436.4" x2="1194.9" y2="2436.4" stroke="#000" stroke-width="3" stroke-linecap="butt"/>
<line x1="1183.4" y1="2319" x2="1194.9" y2="2319" stroke="#000" stroke-width="3" stroke-linecap="butt"/>
<line x1="1183.4" y1="2201.6" x2="1194.9" y2="2201.6" stroke="#000" stroke-width="3" stroke-linecap="butt"/>
<line x1="1183.7" y1="2436.4" x2="1454" y2="2436.4" stroke="#000" stroke-width="3" stroke-linecap="butt"/>
<text transform="translate(1179.6 2444.98) scale(1 1.1)" font-size="22" text-anchor="end" stroke-width="0.84">0</text>
<text transform="translate(1179.6 2327.58) scale(1 1.1)" font-size="22" text-anchor="end" stroke-width="0.84">1</text>
<text transform="translate(1179.6 2210.18) scale(1 1.1)" font-size="22" text-anchor="end" stroke-width="0.84">2</text>
<circle cx="1268.7" cy="2240.2" r="6"/>
<circle cx="1268.7" cy="2256.8" r="6"/>
<circle cx="1268.7" cy="2312.7" r="6"/>
<circle cx="1278.9" cy="2387.9" r="6"/>
<circle cx="1258.2" cy="2397.7" r="6"/>
<circle cx="1379.5" cy="2183.3" r="6"/>
<circle cx="1369.3" cy="2219.9" r="6"/>
<circle cx="1390.3" cy="2219.9" r="6"/>
<circle cx="1379.5" cy="2253.1" r="6"/>
<circle cx="1379.5" cy="2273.1" r="6"/>
<text x="1185.96" y="2490.2" font-size="35.36" text-anchor="start" stroke-width="0.95">Control</text>
<text x="1327.97" y="2490.2" font-size="35.44" text-anchor="start" stroke-width="0.96">Myonectin</text>
<text transform="translate(1136 2465.41) rotate(-90)" font-size="35.18" text-anchor="start" stroke-width="1.1">PGC1α4 protein levels</text>
</svg></body></html>
